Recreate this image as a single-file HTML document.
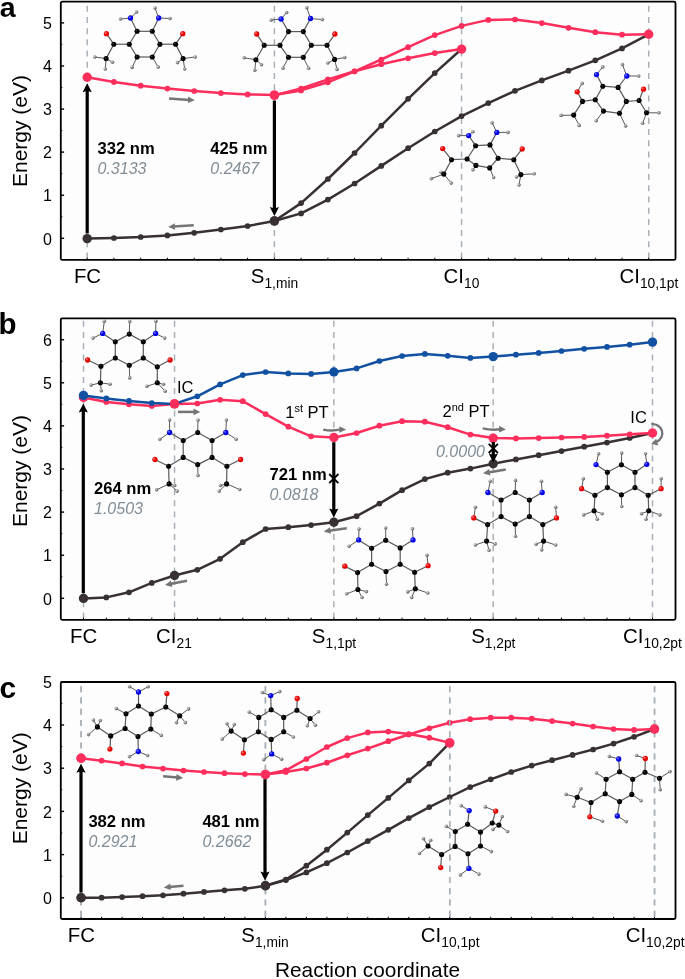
<!DOCTYPE html>
<html><head><meta charset="utf-8"><style>
html,body{margin:0;padding:0;background:#fff;width:685px;height:979px;overflow:hidden}
svg{display:block;will-change:transform}
text{font-family:"Liberation Sans",sans-serif;fill:#000}
</style></head><body>
<svg width="685" height="979" viewBox="0 0 685 979">
<defs>
<radialGradient id="gC" cx="35%" cy="35%" r="65%"><stop offset="0" stop-color="#444"/><stop offset="0.35" stop-color="#000"/></radialGradient>
<radialGradient id="gN" cx="35%" cy="35%" r="65%"><stop offset="0" stop-color="#8080ff"/><stop offset="0.5" stop-color="#0000e6"/></radialGradient>
<radialGradient id="gO" cx="35%" cy="35%" r="65%"><stop offset="0" stop-color="#ff8080"/><stop offset="0.5" stop-color="#e60000"/></radialGradient>
<radialGradient id="gH" cx="35%" cy="35%" r="65%"><stop offset="0" stop-color="#e0e0e0"/><stop offset="0.5" stop-color="#909090"/><stop offset="1" stop-color="#5a5a5a"/></radialGradient>
</defs>
<rect x="60.8" y="1.7" width="614.7" height="258.2" rx="1.5" fill="#fdfdfe" stroke="#000" stroke-width="1.8"/>
<line x1="87.2" y1="5.7" x2="87.2" y2="258" stroke="#a9b1b8" stroke-width="1.5" stroke-dasharray="6,5.22"/>
<line x1="274.38" y1="5.7" x2="274.38" y2="258" stroke="#a9b1b8" stroke-width="1.5" stroke-dasharray="6,5.22"/>
<line x1="461.55999999999995" y1="5.7" x2="461.55999999999995" y2="258" stroke="#a9b1b8" stroke-width="1.5" stroke-dasharray="6,5.22"/>
<line x1="648.74" y1="5.7" x2="648.74" y2="258" stroke="#a9b1b8" stroke-width="1.5" stroke-dasharray="6,5.22"/>
<line x1="87.2" y1="259.9" x2="87.2" y2="257.7" stroke="#000" stroke-width="1"/>
<line x1="113.9" y1="259.9" x2="113.9" y2="257.7" stroke="#000" stroke-width="1"/>
<line x1="140.7" y1="259.9" x2="140.7" y2="257.7" stroke="#000" stroke-width="1"/>
<line x1="167.4" y1="259.9" x2="167.4" y2="257.7" stroke="#000" stroke-width="1"/>
<line x1="194.2" y1="259.9" x2="194.2" y2="257.7" stroke="#000" stroke-width="1"/>
<line x1="220.9" y1="259.9" x2="220.9" y2="257.7" stroke="#000" stroke-width="1"/>
<line x1="247.6" y1="259.9" x2="247.6" y2="257.7" stroke="#000" stroke-width="1"/>
<line x1="274.4" y1="259.9" x2="274.4" y2="257.7" stroke="#000" stroke-width="1"/>
<line x1="301.1" y1="259.9" x2="301.1" y2="257.7" stroke="#000" stroke-width="1"/>
<line x1="327.9" y1="259.9" x2="327.9" y2="257.7" stroke="#000" stroke-width="1"/>
<line x1="354.6" y1="259.9" x2="354.6" y2="257.7" stroke="#000" stroke-width="1"/>
<line x1="381.3" y1="259.9" x2="381.3" y2="257.7" stroke="#000" stroke-width="1"/>
<line x1="408.1" y1="259.9" x2="408.1" y2="257.7" stroke="#000" stroke-width="1"/>
<line x1="434.8" y1="259.9" x2="434.8" y2="257.7" stroke="#000" stroke-width="1"/>
<line x1="461.6" y1="259.9" x2="461.6" y2="257.7" stroke="#000" stroke-width="1"/>
<line x1="488.3" y1="259.9" x2="488.3" y2="257.7" stroke="#000" stroke-width="1"/>
<line x1="515.0" y1="259.9" x2="515.0" y2="257.7" stroke="#000" stroke-width="1"/>
<line x1="541.8" y1="259.9" x2="541.8" y2="257.7" stroke="#000" stroke-width="1"/>
<line x1="568.5" y1="259.9" x2="568.5" y2="257.7" stroke="#000" stroke-width="1"/>
<line x1="595.3" y1="259.9" x2="595.3" y2="257.7" stroke="#000" stroke-width="1"/>
<line x1="622.0" y1="259.9" x2="622.0" y2="257.7" stroke="#000" stroke-width="1"/>
<line x1="648.7" y1="259.9" x2="648.7" y2="257.7" stroke="#000" stroke-width="1"/>
<line x1="60.8" y1="238.3" x2="64.1" y2="238.3" stroke="#000" stroke-width="1.4"/>
<text x="52" y="244.5" font-size="16" text-anchor="end">0</text>
<line x1="60.8" y1="216.8" x2="62.3" y2="216.8" stroke="#000" stroke-width="1"/>
<line x1="60.8" y1="195.2" x2="64.1" y2="195.2" stroke="#000" stroke-width="1.4"/>
<text x="52" y="201.4" font-size="16" text-anchor="end">1</text>
<line x1="60.8" y1="173.7" x2="62.3" y2="173.7" stroke="#000" stroke-width="1"/>
<line x1="60.8" y1="152.1" x2="64.1" y2="152.1" stroke="#000" stroke-width="1.4"/>
<text x="52" y="158.3" font-size="16" text-anchor="end">2</text>
<line x1="60.8" y1="130.6" x2="62.3" y2="130.6" stroke="#000" stroke-width="1"/>
<line x1="60.8" y1="109.1" x2="64.1" y2="109.1" stroke="#000" stroke-width="1.4"/>
<text x="52" y="115.3" font-size="16" text-anchor="end">3</text>
<line x1="60.8" y1="87.5" x2="62.3" y2="87.5" stroke="#000" stroke-width="1"/>
<line x1="60.8" y1="66.0" x2="64.1" y2="66.0" stroke="#000" stroke-width="1.4"/>
<text x="52" y="72.2" font-size="16" text-anchor="end">4</text>
<line x1="60.8" y1="44.4" x2="62.3" y2="44.4" stroke="#000" stroke-width="1"/>
<line x1="60.8" y1="22.9" x2="64.1" y2="22.9" stroke="#000" stroke-width="1.4"/>
<text x="52" y="29.1" font-size="16" text-anchor="end">5</text>
<text transform="translate(27.1,131) rotate(-90)" font-size="21" text-anchor="middle">Energy (eV)</text>
<polyline points="87.2,238.6 113.9,238.0 140.7,237.0 167.4,235.4 194.2,232.8 220.9,229.5 247.6,226.0 274.4,221.0" fill="none" stroke="#383032" stroke-width="2.5" stroke-linejoin="round" stroke-linecap="round"/>
<circle cx="87.2" cy="238.6" r="4.7" fill="#383032"/>
<circle cx="113.9" cy="238.0" r="2.85" fill="#383032"/>
<circle cx="140.7" cy="237.0" r="2.85" fill="#383032"/>
<circle cx="167.4" cy="235.4" r="2.85" fill="#383032"/>
<circle cx="194.2" cy="232.8" r="2.85" fill="#383032"/>
<circle cx="220.9" cy="229.5" r="2.85" fill="#383032"/>
<circle cx="247.6" cy="226.0" r="2.85" fill="#383032"/>
<circle cx="274.4" cy="221.0" r="4.7" fill="#383032"/>
<polyline points="274.4,221.0 301.1,203.1 327.9,179.0 354.6,153.0 381.3,125.7 408.1,98.8 434.8,73.1 461.6,49.0" fill="none" stroke="#383032" stroke-width="2.5" stroke-linejoin="round" stroke-linecap="round"/>
<circle cx="301.1" cy="203.1" r="2.85" fill="#383032"/>
<circle cx="327.9" cy="179.0" r="2.85" fill="#383032"/>
<circle cx="354.6" cy="153.0" r="2.85" fill="#383032"/>
<circle cx="381.3" cy="125.7" r="2.85" fill="#383032"/>
<circle cx="408.1" cy="98.8" r="2.85" fill="#383032"/>
<circle cx="434.8" cy="73.1" r="2.85" fill="#383032"/>
<polyline points="274.4,221.0 301.1,213.4 327.9,199.6 354.6,183.5 381.3,165.9 408.1,148.2 434.8,131.5 461.6,116.1 488.3,103.1 515.0,90.8 541.8,80.4 568.5,70.7 595.3,60.3 622.0,48.4 648.7,34.3" fill="none" stroke="#383032" stroke-width="2.5" stroke-linejoin="round" stroke-linecap="round"/>
<circle cx="301.1" cy="213.4" r="2.85" fill="#383032"/>
<circle cx="327.9" cy="199.6" r="2.85" fill="#383032"/>
<circle cx="354.6" cy="183.5" r="2.85" fill="#383032"/>
<circle cx="381.3" cy="165.9" r="2.85" fill="#383032"/>
<circle cx="408.1" cy="148.2" r="2.85" fill="#383032"/>
<circle cx="434.8" cy="131.5" r="2.85" fill="#383032"/>
<circle cx="461.6" cy="116.1" r="2.85" fill="#383032"/>
<circle cx="488.3" cy="103.1" r="2.85" fill="#383032"/>
<circle cx="515.0" cy="90.8" r="2.85" fill="#383032"/>
<circle cx="541.8" cy="80.4" r="2.85" fill="#383032"/>
<circle cx="568.5" cy="70.7" r="2.85" fill="#383032"/>
<circle cx="595.3" cy="60.3" r="2.85" fill="#383032"/>
<circle cx="622.0" cy="48.4" r="2.85" fill="#383032"/>
<polyline points="87.2,77.3 113.9,81.9 140.7,85.7 167.4,88.6 194.2,91.0 220.9,93.1 247.6,94.4 274.4,95.1" fill="none" stroke="#fd2d5c" stroke-width="2.5" stroke-linejoin="round" stroke-linecap="round"/>
<circle cx="87.2" cy="77.3" r="4.7" fill="#fd2d5c"/>
<circle cx="113.9" cy="81.9" r="2.85" fill="#fd2d5c"/>
<circle cx="140.7" cy="85.7" r="2.85" fill="#fd2d5c"/>
<circle cx="167.4" cy="88.6" r="2.85" fill="#fd2d5c"/>
<circle cx="194.2" cy="91.0" r="2.85" fill="#fd2d5c"/>
<circle cx="220.9" cy="93.1" r="2.85" fill="#fd2d5c"/>
<circle cx="247.6" cy="94.4" r="2.85" fill="#fd2d5c"/>
<circle cx="274.4" cy="95.1" r="2.85" fill="#fd2d5c"/>
<polyline points="274.4,95.1 301.1,90.4 327.9,82.3 354.6,71.3 381.3,64.2 408.1,58.3 434.8,53.1 461.6,49.1" fill="none" stroke="#fd2d5c" stroke-width="2.5" stroke-linejoin="round" stroke-linecap="round"/>
<circle cx="274.4" cy="95.1" r="4.7" fill="#fd2d5c"/>
<circle cx="301.1" cy="90.4" r="2.85" fill="#fd2d5c"/>
<circle cx="327.9" cy="82.3" r="2.85" fill="#fd2d5c"/>
<circle cx="354.6" cy="71.3" r="2.85" fill="#fd2d5c"/>
<circle cx="381.3" cy="64.2" r="2.85" fill="#fd2d5c"/>
<circle cx="408.1" cy="58.3" r="2.85" fill="#fd2d5c"/>
<circle cx="434.8" cy="53.1" r="2.85" fill="#fd2d5c"/>
<circle cx="461.6" cy="49.1" r="4.7" fill="#fd2d5c"/>
<polyline points="274.4,95.1 301.1,88.5 327.9,79.4 354.6,71.3 381.3,59.5 408.1,47.2 434.8,35.1 461.6,25.9 488.3,19.9 515.0,19.5 541.8,23.1 568.5,27.8 595.3,32.2 622.0,34.7 648.7,34.3" fill="none" stroke="#fd2d5c" stroke-width="2.5" stroke-linejoin="round" stroke-linecap="round"/>
<circle cx="301.1" cy="88.5" r="2.85" fill="#fd2d5c"/>
<circle cx="327.9" cy="79.4" r="2.85" fill="#fd2d5c"/>
<circle cx="354.6" cy="71.3" r="2.85" fill="#fd2d5c"/>
<circle cx="381.3" cy="59.5" r="2.85" fill="#fd2d5c"/>
<circle cx="408.1" cy="47.2" r="2.85" fill="#fd2d5c"/>
<circle cx="434.8" cy="35.1" r="2.85" fill="#fd2d5c"/>
<circle cx="461.6" cy="25.9" r="2.85" fill="#fd2d5c"/>
<circle cx="488.3" cy="19.9" r="2.85" fill="#fd2d5c"/>
<circle cx="515.0" cy="19.5" r="2.85" fill="#fd2d5c"/>
<circle cx="541.8" cy="23.1" r="2.85" fill="#fd2d5c"/>
<circle cx="568.5" cy="27.8" r="2.85" fill="#fd2d5c"/>
<circle cx="595.3" cy="32.2" r="2.85" fill="#fd2d5c"/>
<circle cx="622.0" cy="34.7" r="2.85" fill="#fd2d5c"/>
<circle cx="648.7" cy="34.3" r="4.7" fill="#fd2d5c"/>
<circle cx="274.4" cy="95.1" r="4.7" fill="#fd2d5c"/>
<circle cx="274.4" cy="221" r="4.7" fill="#383032"/>
<line x1="87.2" y1="233.4" x2="87.2" y2="88.15" stroke="#000" stroke-width="3.2"/>
<path d="M87.2,83.2 L82.60,92.20 L87.2,90.76 L91.80,92.20 Z" fill="#000"/>
<line x1="274.4" y1="100.6" x2="274.4" y2="211.05" stroke="#000" stroke-width="3.2"/>
<path d="M274.4,216 L269.80,207.00 L274.4,208.44 L279.00,207.00 Z" fill="#000"/>
<text x="97.5" y="153.5" font-size="16.6" font-weight="bold">332 nm</text>
<text x="97.5" y="173.7" font-size="16" font-style="italic" style="fill:#808d96">0.3133</text>
<text x="210.3" y="153.5" font-size="16.6" font-weight="bold">425 nm</text>
<text x="210.3" y="173.7" font-size="16" font-style="italic" style="fill:#808d96">0.2467</text>
<line x1="169" y1="98.5" x2="189.5" y2="99.9" stroke="#757575" stroke-width="2.5"/>
<path d="M194.8,100.2 L187.8,103.0 L188.2,96.5 Z" fill="#757575"/>
<line x1="193.8" y1="225.2" x2="173.5" y2="226.5" stroke="#757575" stroke-width="2.5"/>
<path d="M168.2,226.9 L174.8,223.2 L175.2,229.7 Z" fill="#757575"/>
<text x="87.5" y="282.6" font-size="20.4" text-anchor="middle">FC<tspan font-size="13.8" dy="5.2"></tspan></text>
<text x="274.5" y="282.6" font-size="20.4" text-anchor="middle">S<tspan font-size="13.8" dy="5.2">1,min</tspan></text>
<text x="461.5" y="282.6" font-size="20.4" text-anchor="middle">CI<tspan font-size="13.8" dy="5.2">10</tspan></text>
<text x="648.9" y="282.6" font-size="20.4" text-anchor="middle">CI<tspan font-size="13.8" dy="5.2">10,1pt</tspan></text>
<text x="-0.3" y="17" font-size="28.5" font-weight="bold">a</text>
<rect x="60.8" y="318.3" width="614.7" height="301.49999999999994" rx="1.5" fill="#fdfdfe" stroke="#000" stroke-width="1.8"/>
<line x1="83.5" y1="320.8" x2="83.5" y2="618" stroke="#a9b1b8" stroke-width="1.5" stroke-dasharray="6,5.22"/>
<line x1="174.54000000000002" y1="320.8" x2="174.54000000000002" y2="618" stroke="#a9b1b8" stroke-width="1.5" stroke-dasharray="6,5.22"/>
<line x1="333.86" y1="320.8" x2="333.86" y2="618" stroke="#a9b1b8" stroke-width="1.5" stroke-dasharray="6,5.22"/>
<line x1="493.18" y1="320.8" x2="493.18" y2="618" stroke="#a9b1b8" stroke-width="1.5" stroke-dasharray="6,5.22"/>
<line x1="652.5" y1="320.8" x2="652.5" y2="618" stroke="#a9b1b8" stroke-width="1.5" stroke-dasharray="6,5.22"/>
<line x1="83.5" y1="619.8" x2="83.5" y2="617.5999999999999" stroke="#000" stroke-width="1"/>
<line x1="106.3" y1="619.8" x2="106.3" y2="617.5999999999999" stroke="#000" stroke-width="1"/>
<line x1="129.0" y1="619.8" x2="129.0" y2="617.5999999999999" stroke="#000" stroke-width="1"/>
<line x1="151.8" y1="619.8" x2="151.8" y2="617.5999999999999" stroke="#000" stroke-width="1"/>
<line x1="174.5" y1="619.8" x2="174.5" y2="617.5999999999999" stroke="#000" stroke-width="1"/>
<line x1="197.3" y1="619.8" x2="197.3" y2="617.5999999999999" stroke="#000" stroke-width="1"/>
<line x1="220.1" y1="619.8" x2="220.1" y2="617.5999999999999" stroke="#000" stroke-width="1"/>
<line x1="242.8" y1="619.8" x2="242.8" y2="617.5999999999999" stroke="#000" stroke-width="1"/>
<line x1="265.6" y1="619.8" x2="265.6" y2="617.5999999999999" stroke="#000" stroke-width="1"/>
<line x1="288.3" y1="619.8" x2="288.3" y2="617.5999999999999" stroke="#000" stroke-width="1"/>
<line x1="311.1" y1="619.8" x2="311.1" y2="617.5999999999999" stroke="#000" stroke-width="1"/>
<line x1="333.9" y1="619.8" x2="333.9" y2="617.5999999999999" stroke="#000" stroke-width="1"/>
<line x1="356.6" y1="619.8" x2="356.6" y2="617.5999999999999" stroke="#000" stroke-width="1"/>
<line x1="379.4" y1="619.8" x2="379.4" y2="617.5999999999999" stroke="#000" stroke-width="1"/>
<line x1="402.1" y1="619.8" x2="402.1" y2="617.5999999999999" stroke="#000" stroke-width="1"/>
<line x1="424.9" y1="619.8" x2="424.9" y2="617.5999999999999" stroke="#000" stroke-width="1"/>
<line x1="447.7" y1="619.8" x2="447.7" y2="617.5999999999999" stroke="#000" stroke-width="1"/>
<line x1="470.4" y1="619.8" x2="470.4" y2="617.5999999999999" stroke="#000" stroke-width="1"/>
<line x1="493.2" y1="619.8" x2="493.2" y2="617.5999999999999" stroke="#000" stroke-width="1"/>
<line x1="515.9" y1="619.8" x2="515.9" y2="617.5999999999999" stroke="#000" stroke-width="1"/>
<line x1="538.7" y1="619.8" x2="538.7" y2="617.5999999999999" stroke="#000" stroke-width="1"/>
<line x1="561.5" y1="619.8" x2="561.5" y2="617.5999999999999" stroke="#000" stroke-width="1"/>
<line x1="584.2" y1="619.8" x2="584.2" y2="617.5999999999999" stroke="#000" stroke-width="1"/>
<line x1="607.0" y1="619.8" x2="607.0" y2="617.5999999999999" stroke="#000" stroke-width="1"/>
<line x1="629.7" y1="619.8" x2="629.7" y2="617.5999999999999" stroke="#000" stroke-width="1"/>
<line x1="652.5" y1="619.8" x2="652.5" y2="617.5999999999999" stroke="#000" stroke-width="1"/>
<line x1="60.8" y1="598.3" x2="64.1" y2="598.3" stroke="#000" stroke-width="1.4"/>
<text x="52" y="604.5" font-size="16" text-anchor="end">0</text>
<line x1="60.8" y1="576.8" x2="62.3" y2="576.8" stroke="#000" stroke-width="1"/>
<line x1="60.8" y1="555.2" x2="64.1" y2="555.2" stroke="#000" stroke-width="1.4"/>
<text x="52" y="561.4" font-size="16" text-anchor="end">1</text>
<line x1="60.8" y1="533.6" x2="62.3" y2="533.6" stroke="#000" stroke-width="1"/>
<line x1="60.8" y1="512.1" x2="64.1" y2="512.1" stroke="#000" stroke-width="1.4"/>
<text x="52" y="518.3" font-size="16" text-anchor="end">2</text>
<line x1="60.8" y1="490.5" x2="62.3" y2="490.5" stroke="#000" stroke-width="1"/>
<line x1="60.8" y1="469.0" x2="64.1" y2="469.0" stroke="#000" stroke-width="1.4"/>
<text x="52" y="475.2" font-size="16" text-anchor="end">3</text>
<line x1="60.8" y1="447.4" x2="62.3" y2="447.4" stroke="#000" stroke-width="1"/>
<line x1="60.8" y1="425.9" x2="64.1" y2="425.9" stroke="#000" stroke-width="1.4"/>
<text x="52" y="432.1" font-size="16" text-anchor="end">4</text>
<line x1="60.8" y1="404.3" x2="62.3" y2="404.3" stroke="#000" stroke-width="1"/>
<line x1="60.8" y1="382.8" x2="64.1" y2="382.8" stroke="#000" stroke-width="1.4"/>
<text x="52" y="389.0" font-size="16" text-anchor="end">5</text>
<line x1="60.8" y1="361.2" x2="62.3" y2="361.2" stroke="#000" stroke-width="1"/>
<line x1="60.8" y1="339.7" x2="64.1" y2="339.7" stroke="#000" stroke-width="1.4"/>
<text x="52" y="345.9" font-size="16" text-anchor="end">6</text>
<text transform="translate(27.1,471) rotate(-90)" font-size="21" text-anchor="middle">Energy (eV)</text>
<polyline points="83.5,598.4 106.3,597.4 129.0,592.3 151.8,582.9 174.5,575.5 197.3,569.8 220.1,558.8 242.8,542.2 265.6,529.0 288.3,527.2 311.1,525.1 333.9,522.3 356.6,516.2 379.4,503.6 402.1,490.2 424.9,479.1 447.7,472.7 470.4,468.6 493.2,463.8 515.9,459.4 538.7,455.2 561.5,451.1 584.2,446.7 607.0,442.6 629.7,438.0 652.5,433.0" fill="none" stroke="#383032" stroke-width="2.5" stroke-linejoin="round" stroke-linecap="round"/>
<circle cx="83.5" cy="598.4" r="4.7" fill="#383032"/>
<circle cx="106.3" cy="597.4" r="2.85" fill="#383032"/>
<circle cx="129.0" cy="592.3" r="2.85" fill="#383032"/>
<circle cx="151.8" cy="582.9" r="2.85" fill="#383032"/>
<circle cx="174.5" cy="575.5" r="4.7" fill="#383032"/>
<circle cx="197.3" cy="569.8" r="2.85" fill="#383032"/>
<circle cx="220.1" cy="558.8" r="2.85" fill="#383032"/>
<circle cx="242.8" cy="542.2" r="2.85" fill="#383032"/>
<circle cx="265.6" cy="529.0" r="2.85" fill="#383032"/>
<circle cx="288.3" cy="527.2" r="2.85" fill="#383032"/>
<circle cx="311.1" cy="525.1" r="2.85" fill="#383032"/>
<circle cx="333.9" cy="522.3" r="4.7" fill="#383032"/>
<circle cx="356.6" cy="516.2" r="2.85" fill="#383032"/>
<circle cx="379.4" cy="503.6" r="2.85" fill="#383032"/>
<circle cx="402.1" cy="490.2" r="2.85" fill="#383032"/>
<circle cx="424.9" cy="479.1" r="2.85" fill="#383032"/>
<circle cx="447.7" cy="472.7" r="2.85" fill="#383032"/>
<circle cx="470.4" cy="468.6" r="2.85" fill="#383032"/>
<circle cx="493.2" cy="463.8" r="4.7" fill="#383032"/>
<circle cx="515.9" cy="459.4" r="2.85" fill="#383032"/>
<circle cx="538.7" cy="455.2" r="2.85" fill="#383032"/>
<circle cx="561.5" cy="451.1" r="2.85" fill="#383032"/>
<circle cx="584.2" cy="446.7" r="2.85" fill="#383032"/>
<circle cx="607.0" cy="442.6" r="2.85" fill="#383032"/>
<circle cx="629.7" cy="438.0" r="2.85" fill="#383032"/>
<polyline points="83.5,397.4 106.3,401.9 129.0,404.3 151.8,406.0 174.5,403.9 197.3,403.5 220.1,399.8 242.8,401.2 265.6,414.1 288.3,426.7 311.1,436.3 333.9,437.5 356.6,433.0 379.4,425.7 402.1,421.2 424.9,421.7 447.7,427.2 470.4,434.6 493.2,438.1 515.9,438.4 538.7,438.1 561.5,437.5 584.2,436.9 607.0,435.7 629.7,434.3 652.5,433.0" fill="none" stroke="#fd2d5c" stroke-width="2.5" stroke-linejoin="round" stroke-linecap="round"/>
<circle cx="83.5" cy="397.4" r="4.7" fill="#fd2d5c"/>
<circle cx="106.3" cy="401.9" r="2.85" fill="#fd2d5c"/>
<circle cx="129.0" cy="404.3" r="2.85" fill="#fd2d5c"/>
<circle cx="151.8" cy="406.0" r="2.85" fill="#fd2d5c"/>
<circle cx="174.5" cy="403.9" r="4.7" fill="#fd2d5c"/>
<circle cx="197.3" cy="403.5" r="2.85" fill="#fd2d5c"/>
<circle cx="220.1" cy="399.8" r="2.85" fill="#fd2d5c"/>
<circle cx="242.8" cy="401.2" r="2.85" fill="#fd2d5c"/>
<circle cx="265.6" cy="414.1" r="2.85" fill="#fd2d5c"/>
<circle cx="288.3" cy="426.7" r="2.85" fill="#fd2d5c"/>
<circle cx="311.1" cy="436.3" r="2.85" fill="#fd2d5c"/>
<circle cx="333.9" cy="437.5" r="4.7" fill="#fd2d5c"/>
<circle cx="356.6" cy="433.0" r="2.85" fill="#fd2d5c"/>
<circle cx="379.4" cy="425.7" r="2.85" fill="#fd2d5c"/>
<circle cx="402.1" cy="421.2" r="2.85" fill="#fd2d5c"/>
<circle cx="424.9" cy="421.7" r="2.85" fill="#fd2d5c"/>
<circle cx="447.7" cy="427.2" r="2.85" fill="#fd2d5c"/>
<circle cx="470.4" cy="434.6" r="2.85" fill="#fd2d5c"/>
<circle cx="493.2" cy="438.1" r="4.7" fill="#fd2d5c"/>
<circle cx="515.9" cy="438.4" r="2.85" fill="#fd2d5c"/>
<circle cx="538.7" cy="438.1" r="2.85" fill="#fd2d5c"/>
<circle cx="561.5" cy="437.5" r="2.85" fill="#fd2d5c"/>
<circle cx="584.2" cy="436.9" r="2.85" fill="#fd2d5c"/>
<circle cx="607.0" cy="435.7" r="2.85" fill="#fd2d5c"/>
<circle cx="629.7" cy="434.3" r="2.85" fill="#fd2d5c"/>
<circle cx="652.5" cy="433.0" r="4.7" fill="#fd2d5c"/>
<polyline points="83.5,395.4 106.3,398.4 129.0,400.9 151.8,403.1 174.5,403.9 197.3,396.3 220.1,384.4 242.8,375.1 265.6,372.0 288.3,373.4 311.1,373.9 333.9,372.0 356.6,368.4 379.4,361.0 402.1,356.0 424.9,353.9 447.7,355.8 470.4,357.9 493.2,356.6 515.9,354.7 538.7,352.9 561.5,351.0 584.2,348.8 607.0,346.9 629.7,344.7 652.5,342.1" fill="none" stroke="#1251a2" stroke-width="2.5" stroke-linejoin="round" stroke-linecap="round"/>
<circle cx="83.5" cy="395.4" r="4.7" fill="#1251a2"/>
<circle cx="106.3" cy="398.4" r="2.85" fill="#1251a2"/>
<circle cx="129.0" cy="400.9" r="2.85" fill="#1251a2"/>
<circle cx="151.8" cy="403.1" r="2.85" fill="#1251a2"/>
<circle cx="197.3" cy="396.3" r="2.85" fill="#1251a2"/>
<circle cx="220.1" cy="384.4" r="2.85" fill="#1251a2"/>
<circle cx="242.8" cy="375.1" r="2.85" fill="#1251a2"/>
<circle cx="265.6" cy="372.0" r="2.85" fill="#1251a2"/>
<circle cx="288.3" cy="373.4" r="2.85" fill="#1251a2"/>
<circle cx="311.1" cy="373.9" r="2.85" fill="#1251a2"/>
<circle cx="333.9" cy="372.0" r="4.7" fill="#1251a2"/>
<circle cx="356.6" cy="368.4" r="2.85" fill="#1251a2"/>
<circle cx="379.4" cy="361.0" r="2.85" fill="#1251a2"/>
<circle cx="402.1" cy="356.0" r="2.85" fill="#1251a2"/>
<circle cx="424.9" cy="353.9" r="2.85" fill="#1251a2"/>
<circle cx="447.7" cy="355.8" r="2.85" fill="#1251a2"/>
<circle cx="470.4" cy="357.9" r="2.85" fill="#1251a2"/>
<circle cx="493.2" cy="356.6" r="4.7" fill="#1251a2"/>
<circle cx="515.9" cy="354.7" r="2.85" fill="#1251a2"/>
<circle cx="538.7" cy="352.9" r="2.85" fill="#1251a2"/>
<circle cx="561.5" cy="351.0" r="2.85" fill="#1251a2"/>
<circle cx="584.2" cy="348.8" r="2.85" fill="#1251a2"/>
<circle cx="607.0" cy="346.9" r="2.85" fill="#1251a2"/>
<circle cx="629.7" cy="344.7" r="2.85" fill="#1251a2"/>
<circle cx="652.5" cy="342.1" r="4.7" fill="#1251a2"/>
<circle cx="174.5" cy="403.9" r="4.7" fill="#fd2d5c"/>
<line x1="83.3" y1="593.2" x2="83.3" y2="408.45" stroke="#000" stroke-width="3.2"/>
<path d="M83.3,403.5 L78.70,412.50 L83.3,411.06 L87.90,412.50 Z" fill="#000"/>
<line x1="333.8" y1="442.2" x2="333.8" y2="512.65" stroke="#000" stroke-width="3.2"/>
<path d="M333.8,517.6 L329.20,508.60 L333.8,510.04 L338.40,508.60 Z" fill="#000"/>
<path d="M329.2,474.0 L338.40000000000003,483.20000000000005 M338.40000000000003,474.0 L329.2,483.20000000000005" stroke="#000" stroke-width="1.8"/>
<line x1="493.3" y1="442" x2="493.3" y2="457.55" stroke="#000" stroke-width="3.2"/>
<path d="M493.3,462.5 L488.70,453.50 L493.3,454.94 L497.90,453.50 Z" fill="#000"/>
<path d="M488.7,443.79999999999995 L497.90000000000003,453.0 M497.90000000000003,443.79999999999995 L488.7,453.0" stroke="#000" stroke-width="1.8"/>
<text x="94" y="493.6" font-size="16.6" font-weight="bold">264 nm</text>
<text x="94" y="513.8000000000001" font-size="16" font-style="italic" style="fill:#808d96">1.0503</text>
<text x="269.5" y="479.6" font-size="16.6" font-weight="bold">721 nm</text>
<text x="269.5" y="499.8" font-size="16" font-style="italic" style="fill:#808d96">0.0818</text>
<text x="436" y="456.5" font-size="16" font-style="italic" style="fill:#808d96">0.0000</text>
<text x="177" y="392.5" font-size="16.5">IC</text>
<text x="630.3" y="423" font-size="16.5">IC</text>
<text x="285.2" y="418.3" font-size="16.5">1<tspan font-size="11" dy="-6">st</tspan><tspan dy="6"> PT</tspan></text>
<text x="442.5" y="416.8" font-size="16.5">2<tspan font-size="11" dy="-6">nd</tspan><tspan dy="6"> PT</tspan></text>
<line x1="178" y1="411.9" x2="195.0" y2="411.9" stroke="#757575" stroke-width="2.5"/>
<path d="M200.3,411.9 L193.5,415.2 L193.5,408.6 Z" fill="#757575"/>
<path d="M323.2,429.6 Q332.1,431.5 340.9,429.4" fill="none" stroke="#757575" stroke-width="2.5"/>
<path d="M346.2,429.4 L339.4,432.8 L339.4,426.2 Z" fill="#757575"/>
<path d="M482.7,428.4 Q491.6,430.4 500.6,429.2" fill="none" stroke="#757575" stroke-width="2.5"/>
<path d="M505.9,429.4 L499.0,432.4 L499.2,425.8 Z" fill="#757575"/>
<line x1="505.8" y1="469.6" x2="488.2" y2="472.4" stroke="#757575" stroke-width="2.5"/>
<path d="M483,473.2 L489.2,468.9 L490.2,475.4 Z" fill="#757575"/>
<line x1="346.8" y1="528.3" x2="328.9" y2="530.8" stroke="#757575" stroke-width="2.5"/>
<path d="M323.7,531.5 L330.0,527.3 L330.9,533.8 Z" fill="#757575"/>
<line x1="187" y1="580.7" x2="170.2" y2="584.0" stroke="#757575" stroke-width="2.5"/>
<path d="M165,585 L171.0,580.5 L172.3,586.9 Z" fill="#757575"/>
<path d="M651.4,424.2 A9.5,9.2 0 0 1 656.9,441.6" fill="none" stroke="#757575" stroke-width="2.3"/>
<path d="M651.2,443.8 L656.2,438.8 L658.2,445.6 Z" fill="#757575"/>
<text x="83.7" y="643" font-size="20.4" text-anchor="middle">FC<tspan font-size="13.8" dy="5.2"></tspan></text>
<text x="174" y="643" font-size="20.4" text-anchor="middle">CI<tspan font-size="13.8" dy="5.2">21</tspan></text>
<text x="334" y="642.5" font-size="20.4" text-anchor="middle">S<tspan font-size="13.8" dy="5.2">1,1pt</tspan></text>
<text x="493.3" y="642.5" font-size="20.4" text-anchor="middle">S<tspan font-size="13.8" dy="5.2">1,2pt</tspan></text>
<text x="652.5" y="642.5" font-size="20.4" text-anchor="middle">CI<tspan font-size="13.8" dy="5.2">10,2pt</tspan></text>
<text x="-1.6" y="333.7" font-size="29.5" font-weight="bold">b</text>
<rect x="60.8" y="682" width="614.7" height="237" rx="1.5" fill="#fdfdfe" stroke="#000" stroke-width="1.8"/>
<line x1="81.1" y1="686.3" x2="81.1" y2="918" stroke="#a9b1b8" stroke-width="1.5" stroke-dasharray="6,5.22"/>
<line x1="265.41999999999996" y1="686.3" x2="265.41999999999996" y2="918" stroke="#a9b1b8" stroke-width="1.5" stroke-dasharray="6,5.22"/>
<line x1="449.74" y1="686.3" x2="449.74" y2="918" stroke="#a9b1b8" stroke-width="1.5" stroke-dasharray="6,5.22"/>
<line x1="654.5400000000001" y1="686.3" x2="654.5400000000001" y2="918" stroke="#a9b1b8" stroke-width="1.5" stroke-dasharray="6,5.22"/>
<line x1="81.1" y1="919" x2="81.1" y2="916.8" stroke="#000" stroke-width="1"/>
<line x1="101.6" y1="919" x2="101.6" y2="916.8" stroke="#000" stroke-width="1"/>
<line x1="122.1" y1="919" x2="122.1" y2="916.8" stroke="#000" stroke-width="1"/>
<line x1="142.5" y1="919" x2="142.5" y2="916.8" stroke="#000" stroke-width="1"/>
<line x1="163.0" y1="919" x2="163.0" y2="916.8" stroke="#000" stroke-width="1"/>
<line x1="183.5" y1="919" x2="183.5" y2="916.8" stroke="#000" stroke-width="1"/>
<line x1="204.0" y1="919" x2="204.0" y2="916.8" stroke="#000" stroke-width="1"/>
<line x1="224.5" y1="919" x2="224.5" y2="916.8" stroke="#000" stroke-width="1"/>
<line x1="244.9" y1="919" x2="244.9" y2="916.8" stroke="#000" stroke-width="1"/>
<line x1="265.4" y1="919" x2="265.4" y2="916.8" stroke="#000" stroke-width="1"/>
<line x1="285.9" y1="919" x2="285.9" y2="916.8" stroke="#000" stroke-width="1"/>
<line x1="306.4" y1="919" x2="306.4" y2="916.8" stroke="#000" stroke-width="1"/>
<line x1="326.9" y1="919" x2="326.9" y2="916.8" stroke="#000" stroke-width="1"/>
<line x1="347.3" y1="919" x2="347.3" y2="916.8" stroke="#000" stroke-width="1"/>
<line x1="367.8" y1="919" x2="367.8" y2="916.8" stroke="#000" stroke-width="1"/>
<line x1="388.3" y1="919" x2="388.3" y2="916.8" stroke="#000" stroke-width="1"/>
<line x1="408.8" y1="919" x2="408.8" y2="916.8" stroke="#000" stroke-width="1"/>
<line x1="429.3" y1="919" x2="429.3" y2="916.8" stroke="#000" stroke-width="1"/>
<line x1="449.7" y1="919" x2="449.7" y2="916.8" stroke="#000" stroke-width="1"/>
<line x1="470.2" y1="919" x2="470.2" y2="916.8" stroke="#000" stroke-width="1"/>
<line x1="490.7" y1="919" x2="490.7" y2="916.8" stroke="#000" stroke-width="1"/>
<line x1="511.2" y1="919" x2="511.2" y2="916.8" stroke="#000" stroke-width="1"/>
<line x1="531.7" y1="919" x2="531.7" y2="916.8" stroke="#000" stroke-width="1"/>
<line x1="552.1" y1="919" x2="552.1" y2="916.8" stroke="#000" stroke-width="1"/>
<line x1="572.6" y1="919" x2="572.6" y2="916.8" stroke="#000" stroke-width="1"/>
<line x1="593.1" y1="919" x2="593.1" y2="916.8" stroke="#000" stroke-width="1"/>
<line x1="613.6" y1="919" x2="613.6" y2="916.8" stroke="#000" stroke-width="1"/>
<line x1="634.1" y1="919" x2="634.1" y2="916.8" stroke="#000" stroke-width="1"/>
<line x1="654.5" y1="919" x2="654.5" y2="916.8" stroke="#000" stroke-width="1"/>
<line x1="60.8" y1="897.8" x2="64.1" y2="897.8" stroke="#000" stroke-width="1.4"/>
<text x="52" y="904.0" font-size="16" text-anchor="end">0</text>
<line x1="60.8" y1="876.2" x2="62.3" y2="876.2" stroke="#000" stroke-width="1"/>
<line x1="60.8" y1="854.6" x2="64.1" y2="854.6" stroke="#000" stroke-width="1.4"/>
<text x="52" y="860.8" font-size="16" text-anchor="end">1</text>
<line x1="60.8" y1="833.0" x2="62.3" y2="833.0" stroke="#000" stroke-width="1"/>
<line x1="60.8" y1="811.4" x2="64.1" y2="811.4" stroke="#000" stroke-width="1.4"/>
<text x="52" y="817.6" font-size="16" text-anchor="end">2</text>
<line x1="60.8" y1="789.8" x2="62.3" y2="789.8" stroke="#000" stroke-width="1"/>
<line x1="60.8" y1="768.2" x2="64.1" y2="768.2" stroke="#000" stroke-width="1.4"/>
<text x="52" y="774.4" font-size="16" text-anchor="end">3</text>
<line x1="60.8" y1="746.6" x2="62.3" y2="746.6" stroke="#000" stroke-width="1"/>
<line x1="60.8" y1="725.0" x2="64.1" y2="725.0" stroke="#000" stroke-width="1.4"/>
<text x="52" y="731.2" font-size="16" text-anchor="end">4</text>
<line x1="60.8" y1="703.4" x2="62.3" y2="703.4" stroke="#000" stroke-width="1"/>
<line x1="60.8" y1="681.8" x2="64.1" y2="681.8" stroke="#000" stroke-width="1.4"/>
<text x="52" y="688.0" font-size="16" text-anchor="end">5</text>
<text transform="translate(27.1,788.3) rotate(-90)" font-size="21" text-anchor="middle">Energy (eV)</text>
<polyline points="81.1,897.7 101.6,897.7 122.1,897.1 142.5,896.2 163.0,895.3 183.5,893.7 204.0,891.9 224.5,890.3 244.9,888.8 265.4,885.8" fill="none" stroke="#383032" stroke-width="2.5" stroke-linejoin="round" stroke-linecap="round"/>
<circle cx="81.1" cy="897.7" r="4.7" fill="#383032"/>
<circle cx="101.6" cy="897.7" r="2.85" fill="#383032"/>
<circle cx="122.1" cy="897.1" r="2.85" fill="#383032"/>
<circle cx="142.5" cy="896.2" r="2.85" fill="#383032"/>
<circle cx="163.0" cy="895.3" r="2.85" fill="#383032"/>
<circle cx="183.5" cy="893.7" r="2.85" fill="#383032"/>
<circle cx="204.0" cy="891.9" r="2.85" fill="#383032"/>
<circle cx="224.5" cy="890.3" r="2.85" fill="#383032"/>
<circle cx="244.9" cy="888.8" r="2.85" fill="#383032"/>
<circle cx="265.4" cy="885.8" r="4.7" fill="#383032"/>
<polyline points="265.4,885.8 285.9,879.5 306.4,865.7 326.9,849.7 347.3,832.6 367.8,815.1 388.3,797.9 408.8,780.4 429.3,763.6 449.7,742.9" fill="none" stroke="#383032" stroke-width="2.5" stroke-linejoin="round" stroke-linecap="round"/>
<circle cx="285.9" cy="879.5" r="2.85" fill="#383032"/>
<circle cx="306.4" cy="865.7" r="2.85" fill="#383032"/>
<circle cx="326.9" cy="849.7" r="2.85" fill="#383032"/>
<circle cx="347.3" cy="832.6" r="2.85" fill="#383032"/>
<circle cx="367.8" cy="815.1" r="2.85" fill="#383032"/>
<circle cx="388.3" cy="797.9" r="2.85" fill="#383032"/>
<circle cx="408.8" cy="780.4" r="2.85" fill="#383032"/>
<circle cx="429.3" cy="763.6" r="2.85" fill="#383032"/>
<polyline points="265.4,885.8 285.9,880.1 306.4,872.4 326.9,863.2 347.3,852.5 367.8,841.1 388.3,829.8 408.8,818.1 429.3,807.1 449.7,797.0 470.2,787.1 490.7,779.3 511.2,772.0 531.7,765.6 552.1,760.2 572.6,754.9 593.1,749.5 613.6,743.6 634.1,736.8 654.5,729.0" fill="none" stroke="#383032" stroke-width="2.5" stroke-linejoin="round" stroke-linecap="round"/>
<circle cx="285.9" cy="880.1" r="2.85" fill="#383032"/>
<circle cx="306.4" cy="872.4" r="2.85" fill="#383032"/>
<circle cx="326.9" cy="863.2" r="2.85" fill="#383032"/>
<circle cx="347.3" cy="852.5" r="2.85" fill="#383032"/>
<circle cx="367.8" cy="841.1" r="2.85" fill="#383032"/>
<circle cx="388.3" cy="829.8" r="2.85" fill="#383032"/>
<circle cx="408.8" cy="818.1" r="2.85" fill="#383032"/>
<circle cx="429.3" cy="807.1" r="2.85" fill="#383032"/>
<circle cx="449.7" cy="797.0" r="2.85" fill="#383032"/>
<circle cx="470.2" cy="787.1" r="2.85" fill="#383032"/>
<circle cx="490.7" cy="779.3" r="2.85" fill="#383032"/>
<circle cx="511.2" cy="772.0" r="2.85" fill="#383032"/>
<circle cx="531.7" cy="765.6" r="2.85" fill="#383032"/>
<circle cx="552.1" cy="760.2" r="2.85" fill="#383032"/>
<circle cx="572.6" cy="754.9" r="2.85" fill="#383032"/>
<circle cx="593.1" cy="749.5" r="2.85" fill="#383032"/>
<circle cx="613.6" cy="743.6" r="2.85" fill="#383032"/>
<circle cx="634.1" cy="736.8" r="2.85" fill="#383032"/>
<polyline points="81.1,758.2 101.6,760.7 122.1,763.4 142.5,766.5 163.0,768.6 183.5,770.5 204.0,772.0 224.5,773.2 244.9,774.1 265.4,774.5" fill="none" stroke="#fd2d5c" stroke-width="2.5" stroke-linejoin="round" stroke-linecap="round"/>
<circle cx="81.1" cy="758.2" r="4.7" fill="#fd2d5c"/>
<circle cx="101.6" cy="760.7" r="2.85" fill="#fd2d5c"/>
<circle cx="122.1" cy="763.4" r="2.85" fill="#fd2d5c"/>
<circle cx="142.5" cy="766.5" r="2.85" fill="#fd2d5c"/>
<circle cx="163.0" cy="768.6" r="2.85" fill="#fd2d5c"/>
<circle cx="183.5" cy="770.5" r="2.85" fill="#fd2d5c"/>
<circle cx="204.0" cy="772.0" r="2.85" fill="#fd2d5c"/>
<circle cx="224.5" cy="773.2" r="2.85" fill="#fd2d5c"/>
<circle cx="244.9" cy="774.1" r="2.85" fill="#fd2d5c"/>
<circle cx="265.4" cy="774.5" r="2.85" fill="#fd2d5c"/>
<polyline points="265.4,774.5 285.9,770.3 306.4,759.0 326.9,747.0 347.3,738.1 367.8,732.4 388.3,731.6 408.8,734.0 429.3,737.7 449.7,742.9" fill="none" stroke="#fd2d5c" stroke-width="2.5" stroke-linejoin="round" stroke-linecap="round"/>
<circle cx="265.4" cy="774.5" r="4.7" fill="#fd2d5c"/>
<circle cx="285.9" cy="770.3" r="2.85" fill="#fd2d5c"/>
<circle cx="306.4" cy="759.0" r="2.85" fill="#fd2d5c"/>
<circle cx="326.9" cy="747.0" r="2.85" fill="#fd2d5c"/>
<circle cx="347.3" cy="738.1" r="2.85" fill="#fd2d5c"/>
<circle cx="367.8" cy="732.4" r="2.85" fill="#fd2d5c"/>
<circle cx="388.3" cy="731.6" r="2.85" fill="#fd2d5c"/>
<circle cx="408.8" cy="734.0" r="2.85" fill="#fd2d5c"/>
<circle cx="429.3" cy="737.7" r="2.85" fill="#fd2d5c"/>
<circle cx="449.7" cy="742.9" r="4.7" fill="#fd2d5c"/>
<polyline points="265.4,774.5 285.9,771.9 306.4,768.5 326.9,762.7 347.3,755.3 367.8,748.6 388.3,741.2 408.8,734.5 429.3,728.3 449.7,722.7 470.2,719.2 490.7,717.7 511.2,717.7 531.7,718.7 552.1,721.1 572.6,723.6 593.1,726.5 613.6,729.0 634.1,729.9 654.5,729.0" fill="none" stroke="#fd2d5c" stroke-width="2.5" stroke-linejoin="round" stroke-linecap="round"/>
<circle cx="285.9" cy="771.9" r="2.85" fill="#fd2d5c"/>
<circle cx="306.4" cy="768.5" r="2.85" fill="#fd2d5c"/>
<circle cx="326.9" cy="762.7" r="2.85" fill="#fd2d5c"/>
<circle cx="347.3" cy="755.3" r="2.85" fill="#fd2d5c"/>
<circle cx="367.8" cy="748.6" r="2.85" fill="#fd2d5c"/>
<circle cx="388.3" cy="741.2" r="2.85" fill="#fd2d5c"/>
<circle cx="408.8" cy="734.5" r="2.85" fill="#fd2d5c"/>
<circle cx="429.3" cy="728.3" r="2.85" fill="#fd2d5c"/>
<circle cx="449.7" cy="722.7" r="2.85" fill="#fd2d5c"/>
<circle cx="470.2" cy="719.2" r="2.85" fill="#fd2d5c"/>
<circle cx="490.7" cy="717.7" r="2.85" fill="#fd2d5c"/>
<circle cx="511.2" cy="717.7" r="2.85" fill="#fd2d5c"/>
<circle cx="531.7" cy="718.7" r="2.85" fill="#fd2d5c"/>
<circle cx="552.1" cy="721.1" r="2.85" fill="#fd2d5c"/>
<circle cx="572.6" cy="723.6" r="2.85" fill="#fd2d5c"/>
<circle cx="593.1" cy="726.5" r="2.85" fill="#fd2d5c"/>
<circle cx="613.6" cy="729.0" r="2.85" fill="#fd2d5c"/>
<circle cx="634.1" cy="729.9" r="2.85" fill="#fd2d5c"/>
<circle cx="654.5" cy="729.0" r="4.7" fill="#fd2d5c"/>
<line x1="81.1" y1="686.3" x2="81.1" y2="918" stroke="#a9b1b8" stroke-width="1.5" stroke-dasharray="6,5.22"/>
<line x1="265.41999999999996" y1="686.3" x2="265.41999999999996" y2="918" stroke="#a9b1b8" stroke-width="1.5" stroke-dasharray="6,5.22"/>
<line x1="449.74" y1="686.3" x2="449.74" y2="918" stroke="#a9b1b8" stroke-width="1.5" stroke-dasharray="6,5.22"/>
<line x1="654.5400000000001" y1="686.3" x2="654.5400000000001" y2="918" stroke="#a9b1b8" stroke-width="1.5" stroke-dasharray="6,5.22"/>
<circle cx="81.1" cy="897.7" r="4.7" fill="#383032"/>
<circle cx="265.4" cy="885.8" r="4.7" fill="#383032"/>
<circle cx="81.1" cy="758.2" r="4.7" fill="#fd2d5c"/>
<circle cx="265.4" cy="774.5" r="4.7" fill="#fd2d5c"/>
<circle cx="449.7" cy="742.9" r="4.7" fill="#fd2d5c"/>
<circle cx="654.5" cy="729" r="4.7" fill="#fd2d5c"/>
<line x1="81" y1="892.5" x2="81" y2="768.75" stroke="#000" stroke-width="3.2"/>
<path d="M81,763.8 L76.40,772.80 L81,771.36 L85.60,772.80 Z" fill="#000"/>
<line x1="265" y1="779.2" x2="265" y2="875.55" stroke="#000" stroke-width="3.2"/>
<path d="M265,880.5 L260.40,871.50 L265,872.94 L269.60,871.50 Z" fill="#000"/>
<text x="88.4" y="827" font-size="16.6" font-weight="bold">382 nm</text>
<text x="88.4" y="847.2" font-size="16" font-style="italic" style="fill:#808d96">0.2921</text>
<text x="202.4" y="827" font-size="16.6" font-weight="bold">481 nm</text>
<text x="202.4" y="847.2" font-size="16" font-style="italic" style="fill:#808d96">0.2662</text>
<line x1="163.1" y1="776.3" x2="177.8" y2="777.6" stroke="#757575" stroke-width="2.5"/>
<path d="M183.1,778.0 L176.0,780.7 L176.6,774.1 Z" fill="#757575"/>
<line x1="183.5" y1="885.8" x2="169.1" y2="887.0" stroke="#757575" stroke-width="2.5"/>
<path d="M163.8,887.4 L170.3,883.6 L170.8,890.1 Z" fill="#757575"/>
<text x="81.3" y="942" font-size="20.4" text-anchor="middle">FC<tspan font-size="13.8" dy="5.2"></tspan></text>
<text x="265" y="942" font-size="20.4" text-anchor="middle">S<tspan font-size="13.8" dy="5.2">1,min</tspan></text>
<text x="450.2" y="942" font-size="20.4" text-anchor="middle">CI<tspan font-size="13.8" dy="5.2">10,1pt</tspan></text>
<text x="655.1" y="942" font-size="20.4" text-anchor="middle">CI<tspan font-size="13.8" dy="5.2">10,2pt</tspan></text>
<text x="-0.5" y="698" font-size="30" font-weight="bold">c</text>
<text x="367.5" y="977.3" font-size="20.8" text-anchor="middle">Reaction coordinate</text>
<g id="a1">
<line x1="152.3" y1="31.3" x2="137.1" y2="31.3" stroke="#5a5a5a" stroke-width="1.2"/>
<line x1="159.9" y1="44.2" x2="152.3" y2="31.3" stroke="#5a5a5a" stroke-width="1.2"/>
<line x1="152.3" y1="57" x2="159.9" y2="44.2" stroke="#5a5a5a" stroke-width="1.2"/>
<line x1="137.1" y1="57" x2="152.3" y2="57" stroke="#5a5a5a" stroke-width="1.2"/>
<line x1="129.3" y1="44.2" x2="137.1" y2="57" stroke="#5a5a5a" stroke-width="1.2"/>
<line x1="130.5" y1="18" x2="137.1" y2="31.3" stroke="#5a5a5a" stroke-width="1.2"/>
<line x1="158.7" y1="18" x2="152.3" y2="31.3" stroke="#5a5a5a" stroke-width="1.2"/>
<line x1="120.5" y1="19" x2="130.5" y2="18" stroke="#5a5a5a" stroke-width="1.0"/>
<line x1="136.6" y1="12" x2="130.5" y2="18" stroke="#5a5a5a" stroke-width="1.0"/>
<line x1="155" y1="8" x2="158.7" y2="18" stroke="#5a5a5a" stroke-width="1.0"/>
<line x1="170" y1="18.5" x2="158.7" y2="18" stroke="#5a5a5a" stroke-width="1.0"/>
<line x1="113.8" y1="44.2" x2="129.3" y2="44.2" stroke="#5a5a5a" stroke-width="1.2"/>
<line x1="175.6" y1="44.2" x2="159.9" y2="44.2" stroke="#5a5a5a" stroke-width="1.2"/>
<line x1="106.4" y1="33.7" x2="113.8" y2="44.2" stroke="#5a5a5a" stroke-width="1.2"/>
<line x1="182.8" y1="33.7" x2="175.6" y2="44.2" stroke="#5a5a5a" stroke-width="1.2"/>
<line x1="106.1" y1="58.6" x2="113.8" y2="44.2" stroke="#5a5a5a" stroke-width="1.2"/>
<line x1="183.1" y1="58.6" x2="175.6" y2="44.2" stroke="#5a5a5a" stroke-width="1.2"/>
<line x1="94.8" y1="57" x2="106.1" y2="58.6" stroke="#5a5a5a" stroke-width="1.0"/>
<line x1="105.3" y1="69" x2="106.1" y2="58.6" stroke="#5a5a5a" stroke-width="1.0"/>
<line x1="112.5" y1="62.3" x2="106.1" y2="58.6" stroke="#5a5a5a" stroke-width="1.0"/>
<line x1="195.2" y1="57" x2="183.1" y2="58.6" stroke="#5a5a5a" stroke-width="1.0"/>
<line x1="184.7" y1="69" x2="183.1" y2="58.6" stroke="#5a5a5a" stroke-width="1.0"/>
<line x1="177.5" y1="62.6" x2="183.1" y2="58.6" stroke="#5a5a5a" stroke-width="1.0"/>
<line x1="132.1" y1="67.4" x2="137.1" y2="57" stroke="#5a5a5a" stroke-width="1.0"/>
<line x1="158.2" y1="67.1" x2="152.3" y2="57" stroke="#5a5a5a" stroke-width="1.0"/>
<line x1="129.3" y1="44.2" x2="137.1" y2="31.3" stroke="#5a5a5a" stroke-width="1.2"/>
<circle cx="120.5" cy="19" r="1.8" fill="url(#gH)"/>
<circle cx="136.6" cy="12" r="1.8" fill="url(#gH)"/>
<circle cx="155" cy="8" r="1.8" fill="url(#gH)"/>
<circle cx="170" cy="18.5" r="1.8" fill="url(#gH)"/>
<circle cx="94.8" cy="57" r="1.8" fill="url(#gH)"/>
<circle cx="105.3" cy="69" r="1.8" fill="url(#gH)"/>
<circle cx="112.5" cy="62.3" r="1.8" fill="url(#gH)"/>
<circle cx="195.2" cy="57" r="1.8" fill="url(#gH)"/>
<circle cx="184.7" cy="69" r="1.8" fill="url(#gH)"/>
<circle cx="177.5" cy="62.6" r="1.8" fill="url(#gH)"/>
<circle cx="132.1" cy="67.4" r="1.8" fill="url(#gH)"/>
<circle cx="158.2" cy="67.1" r="1.8" fill="url(#gH)"/>
<circle cx="137.1" cy="31.3" r="2.55" fill="url(#gC)"/>
<circle cx="152.3" cy="31.3" r="2.55" fill="url(#gC)"/>
<circle cx="159.9" cy="44.2" r="2.55" fill="url(#gC)"/>
<circle cx="152.3" cy="57" r="2.55" fill="url(#gC)"/>
<circle cx="137.1" cy="57" r="2.55" fill="url(#gC)"/>
<circle cx="129.3" cy="44.2" r="2.55" fill="url(#gC)"/>
<circle cx="130.5" cy="18" r="2.65" fill="url(#gN)"/>
<circle cx="158.7" cy="18" r="2.65" fill="url(#gN)"/>
<circle cx="113.8" cy="44.2" r="2.55" fill="url(#gC)"/>
<circle cx="175.6" cy="44.2" r="2.55" fill="url(#gC)"/>
<circle cx="106.4" cy="33.7" r="2.65" fill="url(#gO)"/>
<circle cx="182.8" cy="33.7" r="2.65" fill="url(#gO)"/>
<circle cx="106.1" cy="58.6" r="2.55" fill="url(#gC)"/>
<circle cx="183.1" cy="58.6" r="2.55" fill="url(#gC)"/>
</g>
<g id="a2">
<line x1="303.3" y1="31.6" x2="288.5" y2="31.6" stroke="#5a5a5a" stroke-width="1.2"/>
<line x1="311.3" y1="45.3" x2="303.3" y2="31.6" stroke="#5a5a5a" stroke-width="1.2"/>
<line x1="303.3" y1="57.3" x2="311.3" y2="45.3" stroke="#5a5a5a" stroke-width="1.2"/>
<line x1="288.5" y1="57.3" x2="303.3" y2="57.3" stroke="#5a5a5a" stroke-width="1.2"/>
<line x1="280" y1="45.3" x2="288.5" y2="57.3" stroke="#5a5a5a" stroke-width="1.2"/>
<line x1="281.1" y1="19" x2="288.5" y2="31.6" stroke="#5a5a5a" stroke-width="1.2"/>
<line x1="310.5" y1="18.5" x2="303.3" y2="31.6" stroke="#5a5a5a" stroke-width="1.2"/>
<line x1="271.1" y1="20.1" x2="281.1" y2="19" stroke="#5a5a5a" stroke-width="1.0"/>
<line x1="286.7" y1="12.5" x2="281.1" y2="19" stroke="#5a5a5a" stroke-width="1.0"/>
<line x1="306.8" y1="7.7" x2="310.5" y2="18.5" stroke="#5a5a5a" stroke-width="1.0"/>
<line x1="322.2" y1="19.6" x2="310.5" y2="18.5" stroke="#5a5a5a" stroke-width="1.0"/>
<line x1="264.2" y1="45.3" x2="280" y2="45.3" stroke="#5a5a5a" stroke-width="1.2"/>
<line x1="327" y1="45.3" x2="311.3" y2="45.3" stroke="#5a5a5a" stroke-width="1.2"/>
<line x1="256.7" y1="34" x2="264.2" y2="45.3" stroke="#5a5a5a" stroke-width="1.2"/>
<line x1="334.9" y1="34" x2="327" y2="45.3" stroke="#5a5a5a" stroke-width="1.2"/>
<line x1="255.9" y1="59.7" x2="264.2" y2="45.3" stroke="#5a5a5a" stroke-width="1.2"/>
<line x1="334.6" y1="59.4" x2="327" y2="45.3" stroke="#5a5a5a" stroke-width="1.2"/>
<line x1="244.2" y1="57.8" x2="255.9" y2="59.7" stroke="#5a5a5a" stroke-width="1.0"/>
<line x1="254.8" y1="70.2" x2="255.9" y2="59.7" stroke="#5a5a5a" stroke-width="1.0"/>
<line x1="261.5" y1="64.7" x2="255.9" y2="59.7" stroke="#5a5a5a" stroke-width="1.0"/>
<line x1="344.7" y1="57.5" x2="334.6" y2="59.4" stroke="#5a5a5a" stroke-width="1.0"/>
<line x1="337" y1="69.4" x2="334.6" y2="59.4" stroke="#5a5a5a" stroke-width="1.0"/>
<line x1="327.8" y1="63" x2="334.6" y2="59.4" stroke="#5a5a5a" stroke-width="1.0"/>
<line x1="282.9" y1="68.3" x2="288.5" y2="57.3" stroke="#5a5a5a" stroke-width="1.0"/>
<line x1="308.6" y1="68.3" x2="303.3" y2="57.3" stroke="#5a5a5a" stroke-width="1.0"/>
<line x1="280" y1="45.3" x2="288.5" y2="31.6" stroke="#5a5a5a" stroke-width="1.2"/>
<circle cx="271.1" cy="20.1" r="1.8" fill="url(#gH)"/>
<circle cx="286.7" cy="12.5" r="1.8" fill="url(#gH)"/>
<circle cx="306.8" cy="7.7" r="1.8" fill="url(#gH)"/>
<circle cx="322.2" cy="19.6" r="1.8" fill="url(#gH)"/>
<circle cx="244.2" cy="57.8" r="1.8" fill="url(#gH)"/>
<circle cx="254.8" cy="70.2" r="1.8" fill="url(#gH)"/>
<circle cx="261.5" cy="64.7" r="1.8" fill="url(#gH)"/>
<circle cx="344.7" cy="57.5" r="1.8" fill="url(#gH)"/>
<circle cx="337" cy="69.4" r="1.8" fill="url(#gH)"/>
<circle cx="327.8" cy="63" r="1.8" fill="url(#gH)"/>
<circle cx="282.9" cy="68.3" r="1.8" fill="url(#gH)"/>
<circle cx="308.6" cy="68.3" r="1.8" fill="url(#gH)"/>
<circle cx="288.5" cy="31.6" r="2.55" fill="url(#gC)"/>
<circle cx="303.3" cy="31.6" r="2.55" fill="url(#gC)"/>
<circle cx="311.3" cy="45.3" r="2.55" fill="url(#gC)"/>
<circle cx="303.3" cy="57.3" r="2.55" fill="url(#gC)"/>
<circle cx="288.5" cy="57.3" r="2.55" fill="url(#gC)"/>
<circle cx="280" cy="45.3" r="2.55" fill="url(#gC)"/>
<circle cx="281.1" cy="19" r="2.65" fill="url(#gN)"/>
<circle cx="310.5" cy="18.5" r="2.65" fill="url(#gN)"/>
<circle cx="264.2" cy="45.3" r="2.55" fill="url(#gC)"/>
<circle cx="327" cy="45.3" r="2.55" fill="url(#gC)"/>
<circle cx="256.7" cy="34" r="2.65" fill="url(#gO)"/>
<circle cx="334.9" cy="34" r="2.65" fill="url(#gO)"/>
<circle cx="255.9" cy="59.7" r="2.55" fill="url(#gC)"/>
<circle cx="334.6" cy="59.4" r="2.55" fill="url(#gC)"/>
</g>
<g id="a3">
<line x1="618.1" y1="87.4" x2="602.8" y2="86.2" stroke="#5a5a5a" stroke-width="1.2"/>
<line x1="626.3" y1="101.4" x2="618.1" y2="87.4" stroke="#5a5a5a" stroke-width="1.2"/>
<line x1="619.5" y1="113.3" x2="626.3" y2="101.4" stroke="#5a5a5a" stroke-width="1.2"/>
<line x1="603.5" y1="111.1" x2="619.5" y2="113.3" stroke="#5a5a5a" stroke-width="1.2"/>
<line x1="595.3" y1="99.7" x2="603.5" y2="111.1" stroke="#5a5a5a" stroke-width="1.2"/>
<line x1="596.5" y1="74.6" x2="602.8" y2="86.2" stroke="#5a5a5a" stroke-width="1.2"/>
<line x1="602.8" y1="66.9" x2="596.5" y2="74.6" stroke="#5a5a5a" stroke-width="1.0"/>
<line x1="626.8" y1="76" x2="618.1" y2="87.4" stroke="#5a5a5a" stroke-width="1.2"/>
<line x1="622.4" y1="64.6" x2="626.8" y2="76" stroke="#5a5a5a" stroke-width="1.0"/>
<line x1="638.7" y1="76" x2="626.8" y2="76" stroke="#5a5a5a" stroke-width="1.0"/>
<line x1="582.5" y1="101.4" x2="595.3" y2="99.7" stroke="#5a5a5a" stroke-width="1.2"/>
<line x1="577.2" y1="91.8" x2="582.5" y2="101.4" stroke="#5a5a5a" stroke-width="1.2"/>
<line x1="582.2" y1="83.4" x2="577.2" y2="91.8" stroke="#5a5a5a" stroke-width="1.0"/>
<line x1="573.7" y1="115.1" x2="582.5" y2="101.4" stroke="#5a5a5a" stroke-width="1.2"/>
<line x1="561.1" y1="115.4" x2="573.7" y2="115.1" stroke="#5a5a5a" stroke-width="1.0"/>
<line x1="579.2" y1="125.4" x2="573.7" y2="115.1" stroke="#5a5a5a" stroke-width="1.0"/>
<line x1="639.1" y1="100.5" x2="626.3" y2="101.4" stroke="#5a5a5a" stroke-width="1.2"/>
<line x1="643.5" y1="89.2" x2="639.1" y2="100.5" stroke="#5a5a5a" stroke-width="1.2"/>
<line x1="646.5" y1="112.8" x2="639.1" y2="100.5" stroke="#5a5a5a" stroke-width="1.2"/>
<line x1="658.9" y1="112.8" x2="646.5" y2="112.8" stroke="#5a5a5a" stroke-width="1.0"/>
<line x1="642.6" y1="123.3" x2="646.5" y2="112.8" stroke="#5a5a5a" stroke-width="1.0"/>
<line x1="596.2" y1="120.7" x2="603.5" y2="111.1" stroke="#5a5a5a" stroke-width="1.0"/>
<line x1="625.6" y1="126" x2="619.5" y2="113.3" stroke="#5a5a5a" stroke-width="1.0"/>
<line x1="595.3" y1="99.7" x2="602.8" y2="86.2" stroke="#5a5a5a" stroke-width="1.2"/>
<circle cx="602.8" cy="66.9" r="1.8" fill="url(#gH)"/>
<circle cx="622.4" cy="64.6" r="1.8" fill="url(#gH)"/>
<circle cx="638.7" cy="76" r="1.8" fill="url(#gH)"/>
<circle cx="582.2" cy="83.4" r="1.8" fill="url(#gH)"/>
<circle cx="561.1" cy="115.4" r="1.8" fill="url(#gH)"/>
<circle cx="579.2" cy="125.4" r="1.8" fill="url(#gH)"/>
<circle cx="658.9" cy="112.8" r="1.8" fill="url(#gH)"/>
<circle cx="642.6" cy="123.3" r="1.8" fill="url(#gH)"/>
<circle cx="596.2" cy="120.7" r="1.8" fill="url(#gH)"/>
<circle cx="625.6" cy="126" r="1.8" fill="url(#gH)"/>
<circle cx="602.8" cy="86.2" r="2.55" fill="url(#gC)"/>
<circle cx="618.1" cy="87.4" r="2.55" fill="url(#gC)"/>
<circle cx="626.3" cy="101.4" r="2.55" fill="url(#gC)"/>
<circle cx="619.5" cy="113.3" r="2.55" fill="url(#gC)"/>
<circle cx="603.5" cy="111.1" r="2.55" fill="url(#gC)"/>
<circle cx="595.3" cy="99.7" r="2.55" fill="url(#gC)"/>
<circle cx="596.5" cy="74.6" r="2.65" fill="url(#gN)"/>
<circle cx="626.8" cy="76" r="2.65" fill="url(#gN)"/>
<circle cx="582.5" cy="101.4" r="2.55" fill="url(#gC)"/>
<circle cx="577.2" cy="91.8" r="2.65" fill="url(#gO)"/>
<circle cx="573.7" cy="115.1" r="2.55" fill="url(#gC)"/>
<circle cx="639.1" cy="100.5" r="2.55" fill="url(#gC)"/>
<circle cx="643.5" cy="89.2" r="2.65" fill="url(#gO)"/>
<circle cx="646.5" cy="112.8" r="2.55" fill="url(#gC)"/>
</g>
<g id="a4">
<line x1="490" y1="144.9" x2="475.6" y2="145.7" stroke="#5a5a5a" stroke-width="1.2"/>
<line x1="498.1" y1="158.2" x2="490" y2="144.9" stroke="#5a5a5a" stroke-width="1.2"/>
<line x1="489.7" y1="167.9" x2="498.1" y2="158.2" stroke="#5a5a5a" stroke-width="1.2"/>
<line x1="475.9" y1="165.4" x2="489.7" y2="167.9" stroke="#5a5a5a" stroke-width="1.2"/>
<line x1="467.1" y1="159" x2="475.9" y2="165.4" stroke="#5a5a5a" stroke-width="1.2"/>
<line x1="468.7" y1="135.6" x2="475.6" y2="145.7" stroke="#5a5a5a" stroke-width="1.2"/>
<line x1="458.7" y1="135.6" x2="468.7" y2="135.6" stroke="#5a5a5a" stroke-width="1.0"/>
<line x1="472.9" y1="131.7" x2="468.7" y2="135.6" stroke="#5a5a5a" stroke-width="1.0"/>
<line x1="496.8" y1="132.4" x2="490" y2="144.9" stroke="#5a5a5a" stroke-width="1.2"/>
<line x1="492.1" y1="122.7" x2="496.8" y2="132.4" stroke="#5a5a5a" stroke-width="1.0"/>
<line x1="508" y1="132.4" x2="496.8" y2="132.4" stroke="#5a5a5a" stroke-width="1.0"/>
<line x1="451.5" y1="159.7" x2="467.1" y2="159" stroke="#5a5a5a" stroke-width="1.2"/>
<line x1="442.7" y1="148.6" x2="451.5" y2="159.7" stroke="#5a5a5a" stroke-width="1.2"/>
<line x1="443.8" y1="174.1" x2="451.5" y2="159.7" stroke="#5a5a5a" stroke-width="1.2"/>
<line x1="431.4" y1="178.6" x2="443.8" y2="174.1" stroke="#5a5a5a" stroke-width="1.0"/>
<line x1="451.2" y1="183.1" x2="443.8" y2="174.1" stroke="#5a5a5a" stroke-width="1.0"/>
<line x1="441" y1="172.2" x2="443.8" y2="174.1" stroke="#5a5a5a" stroke-width="1.0"/>
<line x1="513.8" y1="159.7" x2="498.1" y2="158.2" stroke="#5a5a5a" stroke-width="1.2"/>
<line x1="522.2" y1="148.9" x2="513.8" y2="159.7" stroke="#5a5a5a" stroke-width="1.2"/>
<line x1="520.9" y1="174.6" x2="513.8" y2="159.7" stroke="#5a5a5a" stroke-width="1.2"/>
<line x1="534.2" y1="173.8" x2="520.9" y2="174.6" stroke="#5a5a5a" stroke-width="1.0"/>
<line x1="519" y1="185" x2="520.9" y2="174.6" stroke="#5a5a5a" stroke-width="1.0"/>
<line x1="516.5" y1="177" x2="520.9" y2="174.6" stroke="#5a5a5a" stroke-width="1.0"/>
<line x1="472.9" y1="169.8" x2="475.9" y2="165.4" stroke="#5a5a5a" stroke-width="1.0"/>
<line x1="493.6" y1="177.5" x2="489.7" y2="167.9" stroke="#5a5a5a" stroke-width="1.0"/>
<line x1="467.1" y1="159" x2="475.6" y2="145.7" stroke="#5a5a5a" stroke-width="1.2"/>
<circle cx="458.7" cy="135.6" r="1.8" fill="url(#gH)"/>
<circle cx="472.9" cy="131.7" r="1.8" fill="url(#gH)"/>
<circle cx="492.1" cy="122.7" r="1.8" fill="url(#gH)"/>
<circle cx="508" cy="132.4" r="1.8" fill="url(#gH)"/>
<circle cx="431.4" cy="178.6" r="1.8" fill="url(#gH)"/>
<circle cx="451.2" cy="183.1" r="1.8" fill="url(#gH)"/>
<circle cx="441" cy="172.2" r="1.8" fill="url(#gH)"/>
<circle cx="534.2" cy="173.8" r="1.8" fill="url(#gH)"/>
<circle cx="519" cy="185" r="1.8" fill="url(#gH)"/>
<circle cx="516.5" cy="177" r="1.8" fill="url(#gH)"/>
<circle cx="472.9" cy="169.8" r="1.8" fill="url(#gH)"/>
<circle cx="493.6" cy="177.5" r="1.8" fill="url(#gH)"/>
<circle cx="475.6" cy="145.7" r="2.55" fill="url(#gC)"/>
<circle cx="490" cy="144.9" r="2.55" fill="url(#gC)"/>
<circle cx="498.1" cy="158.2" r="2.55" fill="url(#gC)"/>
<circle cx="489.7" cy="167.9" r="2.55" fill="url(#gC)"/>
<circle cx="475.9" cy="165.4" r="2.55" fill="url(#gC)"/>
<circle cx="467.1" cy="159" r="2.55" fill="url(#gC)"/>
<circle cx="468.7" cy="135.6" r="2.65" fill="url(#gN)"/>
<circle cx="496.8" cy="132.4" r="2.65" fill="url(#gN)"/>
<circle cx="451.5" cy="159.7" r="2.55" fill="url(#gC)"/>
<circle cx="442.7" cy="148.6" r="2.65" fill="url(#gO)"/>
<circle cx="443.8" cy="174.1" r="2.55" fill="url(#gC)"/>
<circle cx="513.8" cy="159.7" r="2.55" fill="url(#gC)"/>
<circle cx="522.2" cy="148.9" r="2.65" fill="url(#gO)"/>
<circle cx="520.9" cy="174.6" r="2.55" fill="url(#gC)"/>
</g>
<g id="b1">
<line x1="143.3" y1="341.7" x2="129.3" y2="334.1" stroke="#5a5a5a" stroke-width="1.2"/>
<line x1="143.3" y1="358" x2="143.3" y2="341.7" stroke="#5a5a5a" stroke-width="1.2"/>
<line x1="129.3" y1="365.3" x2="143.3" y2="358" stroke="#5a5a5a" stroke-width="1.2"/>
<line x1="115.3" y1="358" x2="129.3" y2="365.3" stroke="#5a5a5a" stroke-width="1.2"/>
<line x1="115.3" y1="341.7" x2="115.3" y2="358" stroke="#5a5a5a" stroke-width="1.2"/>
<line x1="129.7" y1="321.5" x2="129.3" y2="334.1" stroke="#5a5a5a" stroke-width="1.0"/>
<line x1="129.7" y1="377.9" x2="129.3" y2="365.3" stroke="#5a5a5a" stroke-width="1.0"/>
<line x1="102.7" y1="333.4" x2="115.3" y2="341.7" stroke="#5a5a5a" stroke-width="1.2"/>
<line x1="104.3" y1="321.2" x2="102.7" y2="333.4" stroke="#5a5a5a" stroke-width="1.0"/>
<line x1="93" y1="338.1" x2="102.7" y2="333.4" stroke="#5a5a5a" stroke-width="1.0"/>
<line x1="155.6" y1="333.4" x2="143.3" y2="341.7" stroke="#5a5a5a" stroke-width="1.2"/>
<line x1="155.9" y1="321.2" x2="155.6" y2="333.4" stroke="#5a5a5a" stroke-width="1.0"/>
<line x1="164.7" y1="338.1" x2="155.6" y2="333.4" stroke="#5a5a5a" stroke-width="1.0"/>
<line x1="100.9" y1="366.2" x2="115.3" y2="358" stroke="#5a5a5a" stroke-width="1.2"/>
<line x1="87.6" y1="360" x2="100.9" y2="366.2" stroke="#5a5a5a" stroke-width="1.2"/>
<line x1="100.4" y1="382.8" x2="100.9" y2="366.2" stroke="#5a5a5a" stroke-width="1.2"/>
<line x1="91.1" y1="385.1" x2="100.4" y2="382.8" stroke="#5a5a5a" stroke-width="1.0"/>
<line x1="110" y1="384.2" x2="100.4" y2="382.8" stroke="#5a5a5a" stroke-width="1.0"/>
<line x1="101.3" y1="390.7" x2="100.4" y2="382.8" stroke="#5a5a5a" stroke-width="1.0"/>
<line x1="157.3" y1="366.7" x2="143.3" y2="358" stroke="#5a5a5a" stroke-width="1.2"/>
<line x1="170.1" y1="360" x2="157.3" y2="366.7" stroke="#5a5a5a" stroke-width="1.2"/>
<line x1="157.3" y1="382.8" x2="157.3" y2="366.7" stroke="#5a5a5a" stroke-width="1.2"/>
<line x1="146.8" y1="386.3" x2="157.3" y2="382.8" stroke="#5a5a5a" stroke-width="1.0"/>
<line x1="165.2" y1="391.2" x2="157.3" y2="382.8" stroke="#5a5a5a" stroke-width="1.0"/>
<line x1="163.5" y1="384.2" x2="157.3" y2="382.8" stroke="#5a5a5a" stroke-width="1.0"/>
<line x1="115.3" y1="341.7" x2="129.3" y2="334.1" stroke="#5a5a5a" stroke-width="1.2"/>
<circle cx="129.7" cy="321.5" r="1.8" fill="url(#gH)"/>
<circle cx="129.7" cy="377.9" r="1.8" fill="url(#gH)"/>
<circle cx="104.3" cy="321.2" r="1.8" fill="url(#gH)"/>
<circle cx="93" cy="338.1" r="1.8" fill="url(#gH)"/>
<circle cx="155.9" cy="321.2" r="1.8" fill="url(#gH)"/>
<circle cx="164.7" cy="338.1" r="1.8" fill="url(#gH)"/>
<circle cx="91.1" cy="385.1" r="1.8" fill="url(#gH)"/>
<circle cx="110" cy="384.2" r="1.8" fill="url(#gH)"/>
<circle cx="101.3" cy="390.7" r="1.8" fill="url(#gH)"/>
<circle cx="146.8" cy="386.3" r="1.8" fill="url(#gH)"/>
<circle cx="165.2" cy="391.2" r="1.8" fill="url(#gH)"/>
<circle cx="163.5" cy="384.2" r="1.8" fill="url(#gH)"/>
<circle cx="129.3" cy="334.1" r="2.55" fill="url(#gC)"/>
<circle cx="143.3" cy="341.7" r="2.55" fill="url(#gC)"/>
<circle cx="143.3" cy="358" r="2.55" fill="url(#gC)"/>
<circle cx="129.3" cy="365.3" r="2.55" fill="url(#gC)"/>
<circle cx="115.3" cy="358" r="2.55" fill="url(#gC)"/>
<circle cx="115.3" cy="341.7" r="2.55" fill="url(#gC)"/>
<circle cx="102.7" cy="333.4" r="2.65" fill="url(#gN)"/>
<circle cx="155.6" cy="333.4" r="2.65" fill="url(#gN)"/>
<circle cx="100.9" cy="366.2" r="2.55" fill="url(#gC)"/>
<circle cx="87.6" cy="360" r="2.65" fill="url(#gO)"/>
<circle cx="100.4" cy="382.8" r="2.55" fill="url(#gC)"/>
<circle cx="157.3" cy="366.7" r="2.55" fill="url(#gC)"/>
<circle cx="170.1" cy="360" r="2.65" fill="url(#gO)"/>
<circle cx="157.3" cy="382.8" r="2.55" fill="url(#gC)"/>
</g>
<g id="b2">
<line x1="212.1" y1="440.5" x2="197.7" y2="432.5" stroke="#5a5a5a" stroke-width="1.2"/>
<line x1="212.1" y1="457.4" x2="212.1" y2="440.5" stroke="#5a5a5a" stroke-width="1.2"/>
<line x1="197.7" y1="464.6" x2="212.1" y2="457.4" stroke="#5a5a5a" stroke-width="1.2"/>
<line x1="183.2" y1="457.4" x2="197.7" y2="464.6" stroke="#5a5a5a" stroke-width="1.2"/>
<line x1="183.2" y1="440.5" x2="183.2" y2="457.4" stroke="#5a5a5a" stroke-width="1.2"/>
<line x1="198" y1="420" x2="197.7" y2="432.5" stroke="#5a5a5a" stroke-width="1.0"/>
<line x1="198" y1="475.5" x2="197.7" y2="464.6" stroke="#5a5a5a" stroke-width="1.0"/>
<line x1="169.6" y1="432.5" x2="183.2" y2="440.5" stroke="#5a5a5a" stroke-width="1.2"/>
<line x1="169.6" y1="420" x2="169.6" y2="432.5" stroke="#5a5a5a" stroke-width="1.0"/>
<line x1="159.8" y1="439.2" x2="169.6" y2="432.5" stroke="#5a5a5a" stroke-width="1.0"/>
<line x1="225.8" y1="432.5" x2="212.1" y2="440.5" stroke="#5a5a5a" stroke-width="1.2"/>
<line x1="226.4" y1="420" x2="225.8" y2="432.5" stroke="#5a5a5a" stroke-width="1.0"/>
<line x1="236.2" y1="439.2" x2="225.8" y2="432.5" stroke="#5a5a5a" stroke-width="1.0"/>
<line x1="168.6" y1="466.2" x2="183.2" y2="457.4" stroke="#5a5a5a" stroke-width="1.2"/>
<line x1="155" y1="459.5" x2="168.6" y2="466.2" stroke="#5a5a5a" stroke-width="1.2"/>
<line x1="169.1" y1="483.9" x2="168.6" y2="466.2" stroke="#5a5a5a" stroke-width="1.2"/>
<line x1="156.6" y1="489.8" x2="169.1" y2="483.9" stroke="#5a5a5a" stroke-width="1.0"/>
<line x1="177.1" y1="491.1" x2="169.1" y2="483.9" stroke="#5a5a5a" stroke-width="1.0"/>
<line x1="174.7" y1="485.5" x2="169.1" y2="483.9" stroke="#5a5a5a" stroke-width="1.0"/>
<line x1="226.9" y1="466.2" x2="212.1" y2="457.4" stroke="#5a5a5a" stroke-width="1.2"/>
<line x1="240.6" y1="459.5" x2="226.9" y2="466.2" stroke="#5a5a5a" stroke-width="1.2"/>
<line x1="226.6" y1="483.9" x2="226.9" y2="466.2" stroke="#5a5a5a" stroke-width="1.2"/>
<line x1="239.7" y1="489.5" x2="226.6" y2="483.9" stroke="#5a5a5a" stroke-width="1.0"/>
<line x1="219.2" y1="491.1" x2="226.6" y2="483.9" stroke="#5a5a5a" stroke-width="1.0"/>
<line x1="220.5" y1="485.5" x2="226.6" y2="483.9" stroke="#5a5a5a" stroke-width="1.0"/>
<line x1="183.2" y1="440.5" x2="197.7" y2="432.5" stroke="#5a5a5a" stroke-width="1.2"/>
<circle cx="198" cy="420" r="1.8" fill="url(#gH)"/>
<circle cx="198" cy="475.5" r="1.8" fill="url(#gH)"/>
<circle cx="169.6" cy="420" r="1.8" fill="url(#gH)"/>
<circle cx="159.8" cy="439.2" r="1.8" fill="url(#gH)"/>
<circle cx="226.4" cy="420" r="1.8" fill="url(#gH)"/>
<circle cx="236.2" cy="439.2" r="1.8" fill="url(#gH)"/>
<circle cx="156.6" cy="489.8" r="1.8" fill="url(#gH)"/>
<circle cx="177.1" cy="491.1" r="1.8" fill="url(#gH)"/>
<circle cx="174.7" cy="485.5" r="1.8" fill="url(#gH)"/>
<circle cx="239.7" cy="489.5" r="1.8" fill="url(#gH)"/>
<circle cx="219.2" cy="491.1" r="1.8" fill="url(#gH)"/>
<circle cx="220.5" cy="485.5" r="1.8" fill="url(#gH)"/>
<circle cx="197.7" cy="432.5" r="2.55" fill="url(#gC)"/>
<circle cx="212.1" cy="440.5" r="2.55" fill="url(#gC)"/>
<circle cx="212.1" cy="457.4" r="2.55" fill="url(#gC)"/>
<circle cx="197.7" cy="464.6" r="2.55" fill="url(#gC)"/>
<circle cx="183.2" cy="457.4" r="2.55" fill="url(#gC)"/>
<circle cx="183.2" cy="440.5" r="2.55" fill="url(#gC)"/>
<circle cx="169.6" cy="432.5" r="2.65" fill="url(#gN)"/>
<circle cx="225.8" cy="432.5" r="2.65" fill="url(#gN)"/>
<circle cx="168.6" cy="466.2" r="2.55" fill="url(#gC)"/>
<circle cx="155" cy="459.5" r="2.65" fill="url(#gO)"/>
<circle cx="169.1" cy="483.9" r="2.55" fill="url(#gC)"/>
<circle cx="226.9" cy="466.2" r="2.55" fill="url(#gC)"/>
<circle cx="240.6" cy="459.5" r="2.65" fill="url(#gO)"/>
<circle cx="226.6" cy="483.9" r="2.55" fill="url(#gC)"/>
</g>
<g id="b3">
<line x1="400.2" y1="547.9" x2="385.7" y2="540.2" stroke="#5a5a5a" stroke-width="1.2"/>
<line x1="400.2" y1="564.3" x2="400.2" y2="547.9" stroke="#5a5a5a" stroke-width="1.2"/>
<line x1="386" y1="571.5" x2="400.2" y2="564.3" stroke="#5a5a5a" stroke-width="1.2"/>
<line x1="371.6" y1="564.3" x2="386" y2="571.5" stroke="#5a5a5a" stroke-width="1.2"/>
<line x1="371.6" y1="548.2" x2="371.6" y2="564.3" stroke="#5a5a5a" stroke-width="1.2"/>
<line x1="385.7" y1="528" x2="385.7" y2="540.2" stroke="#5a5a5a" stroke-width="1.0"/>
<line x1="386.5" y1="584.2" x2="386" y2="571.5" stroke="#5a5a5a" stroke-width="1.0"/>
<line x1="358.7" y1="539.9" x2="371.6" y2="548.2" stroke="#5a5a5a" stroke-width="1.2"/>
<line x1="359" y1="529" x2="358.7" y2="539.9" stroke="#5a5a5a" stroke-width="1.0"/>
<line x1="349.1" y1="546.3" x2="358.7" y2="539.9" stroke="#5a5a5a" stroke-width="1.0"/>
<line x1="413" y1="539.9" x2="400.2" y2="547.9" stroke="#5a5a5a" stroke-width="1.2"/>
<line x1="412.5" y1="528.8" x2="413" y2="539.9" stroke="#5a5a5a" stroke-width="1.0"/>
<line x1="357.6" y1="572.6" x2="371.6" y2="564.3" stroke="#5a5a5a" stroke-width="1.2"/>
<line x1="344.8" y1="566.2" x2="357.6" y2="572.6" stroke="#5a5a5a" stroke-width="1.2"/>
<line x1="357.9" y1="589.5" x2="357.6" y2="572.6" stroke="#5a5a5a" stroke-width="1.2"/>
<line x1="346.7" y1="593.8" x2="357.9" y2="589.5" stroke="#5a5a5a" stroke-width="1.0"/>
<line x1="366.4" y1="591.6" x2="357.9" y2="589.5" stroke="#5a5a5a" stroke-width="1.0"/>
<line x1="362" y1="597.5" x2="357.9" y2="589.5" stroke="#5a5a5a" stroke-width="1.0"/>
<line x1="414.6" y1="572.3" x2="400.2" y2="564.3" stroke="#5a5a5a" stroke-width="1.2"/>
<line x1="428.1" y1="565.7" x2="414.6" y2="572.3" stroke="#5a5a5a" stroke-width="1.2"/>
<line x1="427" y1="555.3" x2="428.1" y2="565.7" stroke="#5a5a5a" stroke-width="1.0"/>
<line x1="415.3" y1="588.7" x2="414.6" y2="572.3" stroke="#5a5a5a" stroke-width="1.2"/>
<line x1="427.8" y1="593" x2="415.3" y2="588.7" stroke="#5a5a5a" stroke-width="1.0"/>
<line x1="407.7" y1="591.9" x2="415.3" y2="588.7" stroke="#5a5a5a" stroke-width="1.0"/>
<line x1="411.7" y1="597.5" x2="415.3" y2="588.7" stroke="#5a5a5a" stroke-width="1.0"/>
<line x1="371.6" y1="548.2" x2="385.7" y2="540.2" stroke="#5a5a5a" stroke-width="1.2"/>
<circle cx="385.7" cy="528" r="1.8" fill="url(#gH)"/>
<circle cx="386.5" cy="584.2" r="1.8" fill="url(#gH)"/>
<circle cx="359" cy="529" r="1.8" fill="url(#gH)"/>
<circle cx="349.1" cy="546.3" r="1.8" fill="url(#gH)"/>
<circle cx="412.5" cy="528.8" r="1.8" fill="url(#gH)"/>
<circle cx="346.7" cy="593.8" r="1.8" fill="url(#gH)"/>
<circle cx="366.4" cy="591.6" r="1.8" fill="url(#gH)"/>
<circle cx="362" cy="597.5" r="1.8" fill="url(#gH)"/>
<circle cx="427" cy="555.3" r="1.8" fill="url(#gH)"/>
<circle cx="427.8" cy="593" r="1.8" fill="url(#gH)"/>
<circle cx="407.7" cy="591.9" r="1.8" fill="url(#gH)"/>
<circle cx="411.7" cy="597.5" r="1.8" fill="url(#gH)"/>
<circle cx="385.7" cy="540.2" r="2.55" fill="url(#gC)"/>
<circle cx="400.2" cy="547.9" r="2.55" fill="url(#gC)"/>
<circle cx="400.2" cy="564.3" r="2.55" fill="url(#gC)"/>
<circle cx="386" cy="571.5" r="2.55" fill="url(#gC)"/>
<circle cx="371.6" cy="564.3" r="2.55" fill="url(#gC)"/>
<circle cx="371.6" cy="548.2" r="2.55" fill="url(#gC)"/>
<circle cx="358.7" cy="539.9" r="2.65" fill="url(#gN)"/>
<circle cx="413" cy="539.9" r="2.65" fill="url(#gN)"/>
<circle cx="357.6" cy="572.6" r="2.55" fill="url(#gC)"/>
<circle cx="344.8" cy="566.2" r="2.65" fill="url(#gO)"/>
<circle cx="357.9" cy="589.5" r="2.55" fill="url(#gC)"/>
<circle cx="414.6" cy="572.3" r="2.55" fill="url(#gC)"/>
<circle cx="428.1" cy="565.7" r="2.65" fill="url(#gO)"/>
<circle cx="415.3" cy="588.7" r="2.55" fill="url(#gC)"/>
</g>
<g id="b4">
<line x1="529.4" y1="500" x2="515.2" y2="492.5" stroke="#5a5a5a" stroke-width="1.2"/>
<line x1="529.4" y1="516.6" x2="529.4" y2="500" stroke="#5a5a5a" stroke-width="1.2"/>
<line x1="515.2" y1="524.1" x2="529.4" y2="516.6" stroke="#5a5a5a" stroke-width="1.2"/>
<line x1="501.1" y1="516.6" x2="515.2" y2="524.1" stroke="#5a5a5a" stroke-width="1.2"/>
<line x1="501.1" y1="500" x2="501.1" y2="516.6" stroke="#5a5a5a" stroke-width="1.2"/>
<line x1="515.5" y1="480.4" x2="515.2" y2="492.5" stroke="#5a5a5a" stroke-width="1.0"/>
<line x1="515.5" y1="536.2" x2="515.2" y2="524.1" stroke="#5a5a5a" stroke-width="1.0"/>
<line x1="487.9" y1="492.5" x2="501.1" y2="500" stroke="#5a5a5a" stroke-width="1.2"/>
<line x1="490.3" y1="481.2" x2="487.9" y2="492.5" stroke="#5a5a5a" stroke-width="1.0"/>
<line x1="542.2" y1="492.5" x2="529.4" y2="500" stroke="#5a5a5a" stroke-width="1.2"/>
<line x1="541.4" y1="481.2" x2="542.2" y2="492.5" stroke="#5a5a5a" stroke-width="1.0"/>
<line x1="487.6" y1="524.6" x2="501.1" y2="516.6" stroke="#5a5a5a" stroke-width="1.2"/>
<line x1="473.8" y1="517.9" x2="487.6" y2="524.6" stroke="#5a5a5a" stroke-width="1.2"/>
<line x1="475.4" y1="507.3" x2="473.8" y2="517.9" stroke="#5a5a5a" stroke-width="1.0"/>
<line x1="486.6" y1="541.1" x2="487.6" y2="524.6" stroke="#5a5a5a" stroke-width="1.2"/>
<line x1="475.4" y1="545" x2="486.6" y2="541.1" stroke="#5a5a5a" stroke-width="1.0"/>
<line x1="495.1" y1="543.9" x2="486.6" y2="541.1" stroke="#5a5a5a" stroke-width="1.0"/>
<line x1="489" y1="550.3" x2="486.6" y2="541.1" stroke="#5a5a5a" stroke-width="1.0"/>
<line x1="542.8" y1="524.6" x2="529.4" y2="516.6" stroke="#5a5a5a" stroke-width="1.2"/>
<line x1="556.5" y1="517.9" x2="542.8" y2="524.6" stroke="#5a5a5a" stroke-width="1.2"/>
<line x1="555.7" y1="507.3" x2="556.5" y2="517.9" stroke="#5a5a5a" stroke-width="1.0"/>
<line x1="543.6" y1="541.1" x2="542.8" y2="524.6" stroke="#5a5a5a" stroke-width="1.2"/>
<line x1="555.7" y1="545" x2="543.6" y2="541.1" stroke="#5a5a5a" stroke-width="1.0"/>
<line x1="536.1" y1="544.2" x2="543.6" y2="541.1" stroke="#5a5a5a" stroke-width="1.0"/>
<line x1="541.7" y1="550" x2="543.6" y2="541.1" stroke="#5a5a5a" stroke-width="1.0"/>
<line x1="501.1" y1="500" x2="515.2" y2="492.5" stroke="#5a5a5a" stroke-width="1.2"/>
<circle cx="515.5" cy="480.4" r="1.8" fill="url(#gH)"/>
<circle cx="515.5" cy="536.2" r="1.8" fill="url(#gH)"/>
<circle cx="490.3" cy="481.2" r="1.8" fill="url(#gH)"/>
<circle cx="541.4" cy="481.2" r="1.8" fill="url(#gH)"/>
<circle cx="475.4" cy="507.3" r="1.8" fill="url(#gH)"/>
<circle cx="475.4" cy="545" r="1.8" fill="url(#gH)"/>
<circle cx="495.1" cy="543.9" r="1.8" fill="url(#gH)"/>
<circle cx="489" cy="550.3" r="1.8" fill="url(#gH)"/>
<circle cx="555.7" cy="507.3" r="1.8" fill="url(#gH)"/>
<circle cx="555.7" cy="545" r="1.8" fill="url(#gH)"/>
<circle cx="536.1" cy="544.2" r="1.8" fill="url(#gH)"/>
<circle cx="541.7" cy="550" r="1.8" fill="url(#gH)"/>
<circle cx="515.2" cy="492.5" r="2.55" fill="url(#gC)"/>
<circle cx="529.4" cy="500" r="2.55" fill="url(#gC)"/>
<circle cx="529.4" cy="516.6" r="2.55" fill="url(#gC)"/>
<circle cx="515.2" cy="524.1" r="2.55" fill="url(#gC)"/>
<circle cx="501.1" cy="516.6" r="2.55" fill="url(#gC)"/>
<circle cx="501.1" cy="500" r="2.55" fill="url(#gC)"/>
<circle cx="487.9" cy="492.5" r="2.65" fill="url(#gN)"/>
<circle cx="542.2" cy="492.5" r="2.65" fill="url(#gN)"/>
<circle cx="487.6" cy="524.6" r="2.55" fill="url(#gC)"/>
<circle cx="473.8" cy="517.9" r="2.65" fill="url(#gO)"/>
<circle cx="486.6" cy="541.1" r="2.55" fill="url(#gC)"/>
<circle cx="542.8" cy="524.6" r="2.55" fill="url(#gC)"/>
<circle cx="556.5" cy="517.9" r="2.65" fill="url(#gO)"/>
<circle cx="543.6" cy="541.1" r="2.55" fill="url(#gC)"/>
</g>
<g id="b5">
<line x1="635" y1="472.3" x2="621.4" y2="464.8" stroke="#5a5a5a" stroke-width="1.2"/>
<line x1="635" y1="487.6" x2="635" y2="472.3" stroke="#5a5a5a" stroke-width="1.2"/>
<line x1="621.4" y1="494.8" x2="635" y2="487.6" stroke="#5a5a5a" stroke-width="1.2"/>
<line x1="607.4" y1="487.6" x2="621.4" y2="494.8" stroke="#5a5a5a" stroke-width="1.2"/>
<line x1="607.4" y1="472.3" x2="607.4" y2="487.6" stroke="#5a5a5a" stroke-width="1.2"/>
<line x1="621.7" y1="453" x2="621.4" y2="464.8" stroke="#5a5a5a" stroke-width="1.0"/>
<line x1="621.7" y1="506.5" x2="621.4" y2="494.8" stroke="#5a5a5a" stroke-width="1.0"/>
<line x1="596" y1="464.6" x2="607.4" y2="472.3" stroke="#5a5a5a" stroke-width="1.2"/>
<line x1="598.6" y1="453.8" x2="596" y2="464.6" stroke="#5a5a5a" stroke-width="1.0"/>
<line x1="646.8" y1="464.3" x2="635" y2="472.3" stroke="#5a5a5a" stroke-width="1.2"/>
<line x1="645.5" y1="453.8" x2="646.8" y2="464.3" stroke="#5a5a5a" stroke-width="1.0"/>
<line x1="594.9" y1="495.3" x2="607.4" y2="487.6" stroke="#5a5a5a" stroke-width="1.2"/>
<line x1="581.6" y1="488.7" x2="594.9" y2="495.3" stroke="#5a5a5a" stroke-width="1.2"/>
<line x1="583.3" y1="478.7" x2="581.6" y2="488.7" stroke="#5a5a5a" stroke-width="1.0"/>
<line x1="594.1" y1="510.8" x2="594.9" y2="495.3" stroke="#5a5a5a" stroke-width="1.2"/>
<line x1="583.7" y1="514.9" x2="594.1" y2="510.8" stroke="#5a5a5a" stroke-width="1.0"/>
<line x1="602.1" y1="513.7" x2="594.1" y2="510.8" stroke="#5a5a5a" stroke-width="1.0"/>
<line x1="597.3" y1="519.2" x2="594.1" y2="510.8" stroke="#5a5a5a" stroke-width="1.0"/>
<line x1="648.2" y1="495.3" x2="635" y2="487.6" stroke="#5a5a5a" stroke-width="1.2"/>
<line x1="661.1" y1="488.7" x2="648.2" y2="495.3" stroke="#5a5a5a" stroke-width="1.2"/>
<line x1="661.1" y1="478.7" x2="661.1" y2="488.7" stroke="#5a5a5a" stroke-width="1.0"/>
<line x1="648.7" y1="510.8" x2="648.2" y2="495.3" stroke="#5a5a5a" stroke-width="1.2"/>
<line x1="659.9" y1="514.9" x2="648.7" y2="510.8" stroke="#5a5a5a" stroke-width="1.0"/>
<line x1="641.5" y1="513.7" x2="648.7" y2="510.8" stroke="#5a5a5a" stroke-width="1.0"/>
<line x1="646" y1="519.2" x2="648.7" y2="510.8" stroke="#5a5a5a" stroke-width="1.0"/>
<line x1="607.4" y1="472.3" x2="621.4" y2="464.8" stroke="#5a5a5a" stroke-width="1.2"/>
<circle cx="621.7" cy="453" r="1.8" fill="url(#gH)"/>
<circle cx="621.7" cy="506.5" r="1.8" fill="url(#gH)"/>
<circle cx="598.6" cy="453.8" r="1.8" fill="url(#gH)"/>
<circle cx="645.5" cy="453.8" r="1.8" fill="url(#gH)"/>
<circle cx="583.3" cy="478.7" r="1.8" fill="url(#gH)"/>
<circle cx="583.7" cy="514.9" r="1.8" fill="url(#gH)"/>
<circle cx="602.1" cy="513.7" r="1.8" fill="url(#gH)"/>
<circle cx="597.3" cy="519.2" r="1.8" fill="url(#gH)"/>
<circle cx="661.1" cy="478.7" r="1.8" fill="url(#gH)"/>
<circle cx="659.9" cy="514.9" r="1.8" fill="url(#gH)"/>
<circle cx="641.5" cy="513.7" r="1.8" fill="url(#gH)"/>
<circle cx="646" cy="519.2" r="1.8" fill="url(#gH)"/>
<circle cx="621.4" cy="464.8" r="2.55" fill="url(#gC)"/>
<circle cx="635" cy="472.3" r="2.55" fill="url(#gC)"/>
<circle cx="635" cy="487.6" r="2.55" fill="url(#gC)"/>
<circle cx="621.4" cy="494.8" r="2.55" fill="url(#gC)"/>
<circle cx="607.4" cy="487.6" r="2.55" fill="url(#gC)"/>
<circle cx="607.4" cy="472.3" r="2.55" fill="url(#gC)"/>
<circle cx="596" cy="464.6" r="2.65" fill="url(#gN)"/>
<circle cx="646.8" cy="464.3" r="2.65" fill="url(#gN)"/>
<circle cx="594.9" cy="495.3" r="2.55" fill="url(#gC)"/>
<circle cx="581.6" cy="488.7" r="2.65" fill="url(#gO)"/>
<circle cx="594.1" cy="510.8" r="2.55" fill="url(#gC)"/>
<circle cx="648.2" cy="495.3" r="2.55" fill="url(#gC)"/>
<circle cx="661.1" cy="488.7" r="2.65" fill="url(#gO)"/>
<circle cx="648.7" cy="510.8" r="2.55" fill="url(#gC)"/>
</g>
<g id="c1">
<line x1="151.3" y1="714" x2="138.5" y2="706" stroke="#5a5a5a" stroke-width="1.2"/>
<line x1="150.8" y1="729" x2="151.3" y2="714" stroke="#5a5a5a" stroke-width="1.2"/>
<line x1="138" y1="736.5" x2="150.8" y2="729" stroke="#5a5a5a" stroke-width="1.2"/>
<line x1="125.1" y1="728.5" x2="138" y2="736.5" stroke="#5a5a5a" stroke-width="1.2"/>
<line x1="126" y1="713.7" x2="125.1" y2="728.5" stroke="#5a5a5a" stroke-width="1.2"/>
<line x1="138.5" y1="692" x2="138.5" y2="706" stroke="#5a5a5a" stroke-width="1.2"/>
<line x1="129.6" y1="686.7" x2="138.5" y2="692" stroke="#5a5a5a" stroke-width="1.0"/>
<line x1="148.1" y1="686.7" x2="138.5" y2="692" stroke="#5a5a5a" stroke-width="1.0"/>
<line x1="138.3" y1="751.5" x2="138" y2="736.5" stroke="#5a5a5a" stroke-width="1.2"/>
<line x1="129.5" y1="756.6" x2="138.3" y2="751.5" stroke="#5a5a5a" stroke-width="1.0"/>
<line x1="147.6" y1="755.5" x2="138.3" y2="751.5" stroke="#5a5a5a" stroke-width="1.0"/>
<line x1="116.3" y1="708.6" x2="126" y2="713.7" stroke="#5a5a5a" stroke-width="1.0"/>
<line x1="161.3" y1="735.4" x2="150.8" y2="729" stroke="#5a5a5a" stroke-width="1.0"/>
<line x1="165.8" y1="707" x2="151.3" y2="714" stroke="#5a5a5a" stroke-width="1.2"/>
<line x1="166.9" y1="693.6" x2="165.8" y2="707" stroke="#5a5a5a" stroke-width="1.2"/>
<line x1="179.7" y1="715.7" x2="165.8" y2="707" stroke="#5a5a5a" stroke-width="1.2"/>
<line x1="188.6" y1="708.9" x2="179.7" y2="715.7" stroke="#5a5a5a" stroke-width="1.0"/>
<line x1="185.4" y1="722.6" x2="179.7" y2="715.7" stroke="#5a5a5a" stroke-width="1.0"/>
<line x1="176.5" y1="722.6" x2="179.7" y2="715.7" stroke="#5a5a5a" stroke-width="1.0"/>
<line x1="110.7" y1="735.9" x2="125.1" y2="728.5" stroke="#5a5a5a" stroke-width="1.2"/>
<line x1="109.9" y1="749.1" x2="110.7" y2="735.9" stroke="#5a5a5a" stroke-width="1.2"/>
<line x1="97.4" y1="726.9" x2="110.7" y2="735.9" stroke="#5a5a5a" stroke-width="1.2"/>
<line x1="88.5" y1="734.6" x2="97.4" y2="726.9" stroke="#5a5a5a" stroke-width="1.0"/>
<line x1="93.4" y1="720.1" x2="97.4" y2="726.9" stroke="#5a5a5a" stroke-width="1.0"/>
<line x1="100.3" y1="720.5" x2="97.4" y2="726.9" stroke="#5a5a5a" stroke-width="1.0"/>
<line x1="126" y1="713.7" x2="138.5" y2="706" stroke="#5a5a5a" stroke-width="1.2"/>
<circle cx="129.6" cy="686.7" r="1.8" fill="url(#gH)"/>
<circle cx="148.1" cy="686.7" r="1.8" fill="url(#gH)"/>
<circle cx="129.5" cy="756.6" r="1.8" fill="url(#gH)"/>
<circle cx="147.6" cy="755.5" r="1.8" fill="url(#gH)"/>
<circle cx="116.3" cy="708.6" r="1.8" fill="url(#gH)"/>
<circle cx="161.3" cy="735.4" r="1.8" fill="url(#gH)"/>
<circle cx="188.6" cy="708.9" r="1.8" fill="url(#gH)"/>
<circle cx="185.4" cy="722.6" r="1.8" fill="url(#gH)"/>
<circle cx="176.5" cy="722.6" r="1.8" fill="url(#gH)"/>
<circle cx="88.5" cy="734.6" r="1.8" fill="url(#gH)"/>
<circle cx="93.4" cy="720.1" r="1.8" fill="url(#gH)"/>
<circle cx="100.3" cy="720.5" r="1.8" fill="url(#gH)"/>
<circle cx="138.5" cy="706" r="2.55" fill="url(#gC)"/>
<circle cx="151.3" cy="714" r="2.55" fill="url(#gC)"/>
<circle cx="150.8" cy="729" r="2.55" fill="url(#gC)"/>
<circle cx="138" cy="736.5" r="2.55" fill="url(#gC)"/>
<circle cx="125.1" cy="728.5" r="2.55" fill="url(#gC)"/>
<circle cx="126" cy="713.7" r="2.55" fill="url(#gC)"/>
<circle cx="138.5" cy="692" r="2.65" fill="url(#gN)"/>
<circle cx="138.3" cy="751.5" r="2.65" fill="url(#gN)"/>
<circle cx="165.8" cy="707" r="2.55" fill="url(#gC)"/>
<circle cx="166.9" cy="693.6" r="2.65" fill="url(#gO)"/>
<circle cx="179.7" cy="715.7" r="2.55" fill="url(#gC)"/>
<circle cx="110.7" cy="735.9" r="2.55" fill="url(#gC)"/>
<circle cx="109.9" cy="749.1" r="2.65" fill="url(#gO)"/>
<circle cx="97.4" cy="726.9" r="2.55" fill="url(#gC)"/>
</g>
<g id="c2">
<line x1="283.7" y1="717.4" x2="271.2" y2="709.7" stroke="#5a5a5a" stroke-width="1.2"/>
<line x1="283.7" y1="731.7" x2="283.7" y2="717.4" stroke="#5a5a5a" stroke-width="1.2"/>
<line x1="271.2" y1="739.4" x2="283.7" y2="731.7" stroke="#5a5a5a" stroke-width="1.2"/>
<line x1="258.4" y1="731.7" x2="271.2" y2="739.4" stroke="#5a5a5a" stroke-width="1.2"/>
<line x1="258.8" y1="717.4" x2="258.4" y2="731.7" stroke="#5a5a5a" stroke-width="1.2"/>
<line x1="270.7" y1="695.6" x2="271.2" y2="709.7" stroke="#5a5a5a" stroke-width="1.2"/>
<line x1="262.4" y1="692.5" x2="270.7" y2="695.6" stroke="#5a5a5a" stroke-width="1.0"/>
<line x1="279.7" y1="691.6" x2="270.7" y2="695.6" stroke="#5a5a5a" stroke-width="1.0"/>
<line x1="271.7" y1="753.9" x2="271.2" y2="739.4" stroke="#5a5a5a" stroke-width="1.2"/>
<line x1="263.7" y1="759.8" x2="271.7" y2="753.9" stroke="#5a5a5a" stroke-width="1.0"/>
<line x1="281.6" y1="759.2" x2="271.7" y2="753.9" stroke="#5a5a5a" stroke-width="1.0"/>
<line x1="249.2" y1="712.1" x2="258.8" y2="717.4" stroke="#5a5a5a" stroke-width="1.0"/>
<line x1="293.4" y1="737" x2="283.7" y2="731.7" stroke="#5a5a5a" stroke-width="1.0"/>
<line x1="296.9" y1="710.2" x2="283.7" y2="717.4" stroke="#5a5a5a" stroke-width="1.2"/>
<line x1="297.2" y1="698.5" x2="296.9" y2="710.2" stroke="#5a5a5a" stroke-width="1.2"/>
<line x1="310.1" y1="718.5" x2="296.9" y2="710.2" stroke="#5a5a5a" stroke-width="1.2"/>
<line x1="318.6" y1="711.8" x2="310.1" y2="718.5" stroke="#5a5a5a" stroke-width="1.0"/>
<line x1="315.4" y1="725.3" x2="310.1" y2="718.5" stroke="#5a5a5a" stroke-width="1.0"/>
<line x1="307.3" y1="725.8" x2="310.1" y2="718.5" stroke="#5a5a5a" stroke-width="1.0"/>
<line x1="244.4" y1="739.7" x2="258.4" y2="731.7" stroke="#5a5a5a" stroke-width="1.2"/>
<line x1="243.4" y1="753.1" x2="244.4" y2="739.7" stroke="#5a5a5a" stroke-width="1.2"/>
<line x1="231.1" y1="731.1" x2="244.4" y2="739.7" stroke="#5a5a5a" stroke-width="1.2"/>
<line x1="222.2" y1="739.1" x2="231.1" y2="731.1" stroke="#5a5a5a" stroke-width="1.0"/>
<line x1="227" y1="723.7" x2="231.1" y2="731.1" stroke="#5a5a5a" stroke-width="1.0"/>
<line x1="234.3" y1="724.6" x2="231.1" y2="731.1" stroke="#5a5a5a" stroke-width="1.0"/>
<line x1="258.8" y1="717.4" x2="271.2" y2="709.7" stroke="#5a5a5a" stroke-width="1.2"/>
<circle cx="262.4" cy="692.5" r="1.8" fill="url(#gH)"/>
<circle cx="279.7" cy="691.6" r="1.8" fill="url(#gH)"/>
<circle cx="263.7" cy="759.8" r="1.8" fill="url(#gH)"/>
<circle cx="281.6" cy="759.2" r="1.8" fill="url(#gH)"/>
<circle cx="249.2" cy="712.1" r="1.8" fill="url(#gH)"/>
<circle cx="293.4" cy="737" r="1.8" fill="url(#gH)"/>
<circle cx="318.6" cy="711.8" r="1.8" fill="url(#gH)"/>
<circle cx="315.4" cy="725.3" r="1.8" fill="url(#gH)"/>
<circle cx="307.3" cy="725.8" r="1.8" fill="url(#gH)"/>
<circle cx="222.2" cy="739.1" r="1.8" fill="url(#gH)"/>
<circle cx="227" cy="723.7" r="1.8" fill="url(#gH)"/>
<circle cx="234.3" cy="724.6" r="1.8" fill="url(#gH)"/>
<circle cx="271.2" cy="709.7" r="2.55" fill="url(#gC)"/>
<circle cx="283.7" cy="717.4" r="2.55" fill="url(#gC)"/>
<circle cx="283.7" cy="731.7" r="2.55" fill="url(#gC)"/>
<circle cx="271.2" cy="739.4" r="2.55" fill="url(#gC)"/>
<circle cx="258.4" cy="731.7" r="2.55" fill="url(#gC)"/>
<circle cx="258.8" cy="717.4" r="2.55" fill="url(#gC)"/>
<circle cx="270.7" cy="695.6" r="2.65" fill="url(#gN)"/>
<circle cx="271.7" cy="753.9" r="2.65" fill="url(#gN)"/>
<circle cx="296.9" cy="710.2" r="2.55" fill="url(#gC)"/>
<circle cx="297.2" cy="698.5" r="2.65" fill="url(#gO)"/>
<circle cx="310.1" cy="718.5" r="2.55" fill="url(#gC)"/>
<circle cx="244.4" cy="739.7" r="2.55" fill="url(#gC)"/>
<circle cx="243.4" cy="753.1" r="2.65" fill="url(#gO)"/>
<circle cx="231.1" cy="731.1" r="2.55" fill="url(#gC)"/>
</g>
<g id="c3">
<line x1="480.5" y1="832" x2="467.6" y2="824.3" stroke="#5a5a5a" stroke-width="1.2"/>
<line x1="480.5" y1="846" x2="480.5" y2="832" stroke="#5a5a5a" stroke-width="1.2"/>
<line x1="468" y1="853.7" x2="480.5" y2="846" stroke="#5a5a5a" stroke-width="1.2"/>
<line x1="455.1" y1="846.4" x2="468" y2="853.7" stroke="#5a5a5a" stroke-width="1.2"/>
<line x1="455.3" y1="831.5" x2="455.1" y2="846.4" stroke="#5a5a5a" stroke-width="1.2"/>
<line x1="469.2" y1="810.6" x2="467.6" y2="824.3" stroke="#5a5a5a" stroke-width="1.2"/>
<line x1="461.2" y1="805.8" x2="469.2" y2="810.6" stroke="#5a5a5a" stroke-width="1.0"/>
<line x1="468.9" y1="868.4" x2="468" y2="853.7" stroke="#5a5a5a" stroke-width="1.2"/>
<line x1="460.4" y1="874.9" x2="468.9" y2="868.4" stroke="#5a5a5a" stroke-width="1.0"/>
<line x1="478.9" y1="874.1" x2="468.9" y2="868.4" stroke="#5a5a5a" stroke-width="1.0"/>
<line x1="446.4" y1="826.4" x2="455.3" y2="831.5" stroke="#5a5a5a" stroke-width="1.0"/>
<line x1="491.4" y1="851.6" x2="480.5" y2="846" stroke="#5a5a5a" stroke-width="1.0"/>
<line x1="492.2" y1="823" x2="480.5" y2="832" stroke="#5a5a5a" stroke-width="1.2"/>
<line x1="495.7" y1="811.1" x2="492.2" y2="823" stroke="#5a5a5a" stroke-width="1.2"/>
<line x1="485.3" y1="806.9" x2="495.7" y2="811.1" stroke="#5a5a5a" stroke-width="1.0"/>
<line x1="498.9" y1="825.1" x2="492.2" y2="823" stroke="#5a5a5a" stroke-width="1.2"/>
<line x1="502.2" y1="816.6" x2="498.9" y2="825.1" stroke="#5a5a5a" stroke-width="1.0"/>
<line x1="507.5" y1="831.5" x2="498.9" y2="825.1" stroke="#5a5a5a" stroke-width="1.0"/>
<line x1="493" y1="829.4" x2="498.9" y2="825.1" stroke="#5a5a5a" stroke-width="1.0"/>
<line x1="441.6" y1="854.5" x2="455.1" y2="846.4" stroke="#5a5a5a" stroke-width="1.2"/>
<line x1="440.7" y1="867.6" x2="441.6" y2="854.5" stroke="#5a5a5a" stroke-width="1.2"/>
<line x1="428" y1="846" x2="441.6" y2="854.5" stroke="#5a5a5a" stroke-width="1.2"/>
<line x1="419.5" y1="853.5" x2="428" y2="846" stroke="#5a5a5a" stroke-width="1.0"/>
<line x1="423.5" y1="838.7" x2="428" y2="846" stroke="#5a5a5a" stroke-width="1.0"/>
<line x1="430.7" y1="840.3" x2="428" y2="846" stroke="#5a5a5a" stroke-width="1.0"/>
<line x1="455.3" y1="831.5" x2="467.6" y2="824.3" stroke="#5a5a5a" stroke-width="1.2"/>
<circle cx="461.2" cy="805.8" r="1.8" fill="url(#gH)"/>
<circle cx="460.4" cy="874.9" r="1.8" fill="url(#gH)"/>
<circle cx="478.9" cy="874.1" r="1.8" fill="url(#gH)"/>
<circle cx="446.4" cy="826.4" r="1.8" fill="url(#gH)"/>
<circle cx="491.4" cy="851.6" r="1.8" fill="url(#gH)"/>
<circle cx="485.3" cy="806.9" r="1.8" fill="url(#gH)"/>
<circle cx="502.2" cy="816.6" r="1.8" fill="url(#gH)"/>
<circle cx="507.5" cy="831.5" r="1.8" fill="url(#gH)"/>
<circle cx="493" cy="829.4" r="1.8" fill="url(#gH)"/>
<circle cx="419.5" cy="853.5" r="1.8" fill="url(#gH)"/>
<circle cx="423.5" cy="838.7" r="1.8" fill="url(#gH)"/>
<circle cx="430.7" cy="840.3" r="1.8" fill="url(#gH)"/>
<circle cx="467.6" cy="824.3" r="2.55" fill="url(#gC)"/>
<circle cx="480.5" cy="832" r="2.55" fill="url(#gC)"/>
<circle cx="480.5" cy="846" r="2.55" fill="url(#gC)"/>
<circle cx="468" cy="853.7" r="2.55" fill="url(#gC)"/>
<circle cx="455.1" cy="846.4" r="2.55" fill="url(#gC)"/>
<circle cx="455.3" cy="831.5" r="2.55" fill="url(#gC)"/>
<circle cx="469.2" cy="810.6" r="2.65" fill="url(#gN)"/>
<circle cx="468.9" cy="868.4" r="2.65" fill="url(#gN)"/>
<circle cx="492.2" cy="823" r="2.55" fill="url(#gC)"/>
<circle cx="495.7" cy="811.1" r="2.65" fill="url(#gO)"/>
<circle cx="498.9" cy="825.1" r="2.55" fill="url(#gC)"/>
<circle cx="441.6" cy="854.5" r="2.55" fill="url(#gC)"/>
<circle cx="440.7" cy="867.6" r="2.65" fill="url(#gO)"/>
<circle cx="428" cy="846" r="2.55" fill="url(#gC)"/>
</g>
<g id="c4">
<line x1="632.7" y1="779.2" x2="619.6" y2="771.8" stroke="#5a5a5a" stroke-width="1.2"/>
<line x1="631.8" y1="794.4" x2="632.7" y2="779.2" stroke="#5a5a5a" stroke-width="1.2"/>
<line x1="619.6" y1="801.6" x2="631.8" y2="794.4" stroke="#5a5a5a" stroke-width="1.2"/>
<line x1="605.2" y1="793.7" x2="619.6" y2="801.6" stroke="#5a5a5a" stroke-width="1.2"/>
<line x1="606.1" y1="779.2" x2="605.2" y2="793.7" stroke="#5a5a5a" stroke-width="1.2"/>
<line x1="618.7" y1="759" x2="619.6" y2="771.8" stroke="#5a5a5a" stroke-width="1.2"/>
<line x1="609.4" y1="756.4" x2="618.7" y2="759" stroke="#5a5a5a" stroke-width="1.0"/>
<line x1="617.3" y1="816" x2="619.6" y2="801.6" stroke="#5a5a5a" stroke-width="1.2"/>
<line x1="626.2" y1="821.6" x2="617.3" y2="816" stroke="#5a5a5a" stroke-width="1.0"/>
<line x1="596.4" y1="773" x2="606.1" y2="779.2" stroke="#5a5a5a" stroke-width="1.0"/>
<line x1="641" y1="800.7" x2="631.8" y2="794.4" stroke="#5a5a5a" stroke-width="1.0"/>
<line x1="645" y1="772.2" x2="632.7" y2="779.2" stroke="#5a5a5a" stroke-width="1.2"/>
<line x1="645.3" y1="758.5" x2="645" y2="772.2" stroke="#5a5a5a" stroke-width="1.2"/>
<line x1="636.6" y1="755.5" x2="645.3" y2="758.5" stroke="#5a5a5a" stroke-width="1.0"/>
<line x1="659.5" y1="778.3" x2="645" y2="772.2" stroke="#5a5a5a" stroke-width="1.2"/>
<line x1="670" y1="771.6" x2="659.5" y2="778.3" stroke="#5a5a5a" stroke-width="1.0"/>
<line x1="660.2" y1="789.7" x2="659.5" y2="778.3" stroke="#5a5a5a" stroke-width="1.0"/>
<line x1="591" y1="802.5" x2="605.2" y2="793.7" stroke="#5a5a5a" stroke-width="1.2"/>
<line x1="589.8" y1="816.8" x2="591" y2="802.5" stroke="#5a5a5a" stroke-width="1.2"/>
<line x1="602.4" y1="821.2" x2="589.8" y2="816.8" stroke="#5a5a5a" stroke-width="1.0"/>
<line x1="577.2" y1="797.2" x2="591" y2="802.5" stroke="#5a5a5a" stroke-width="1.2"/>
<line x1="566.1" y1="794.4" x2="577.2" y2="797.2" stroke="#5a5a5a" stroke-width="1.0"/>
<line x1="581" y1="788.8" x2="577.2" y2="797.2" stroke="#5a5a5a" stroke-width="1.0"/>
<line x1="573.7" y1="806.3" x2="577.2" y2="797.2" stroke="#5a5a5a" stroke-width="1.0"/>
<line x1="606.1" y1="779.2" x2="619.6" y2="771.8" stroke="#5a5a5a" stroke-width="1.2"/>
<circle cx="609.4" cy="756.4" r="1.8" fill="url(#gH)"/>
<circle cx="626.2" cy="821.6" r="1.8" fill="url(#gH)"/>
<circle cx="596.4" cy="773" r="1.8" fill="url(#gH)"/>
<circle cx="641" cy="800.7" r="1.8" fill="url(#gH)"/>
<circle cx="636.6" cy="755.5" r="1.8" fill="url(#gH)"/>
<circle cx="670" cy="771.6" r="1.8" fill="url(#gH)"/>
<circle cx="660.2" cy="789.7" r="1.8" fill="url(#gH)"/>
<circle cx="602.4" cy="821.2" r="1.8" fill="url(#gH)"/>
<circle cx="566.1" cy="794.4" r="1.8" fill="url(#gH)"/>
<circle cx="581" cy="788.8" r="1.8" fill="url(#gH)"/>
<circle cx="573.7" cy="806.3" r="1.8" fill="url(#gH)"/>
<circle cx="619.6" cy="771.8" r="2.55" fill="url(#gC)"/>
<circle cx="632.7" cy="779.2" r="2.55" fill="url(#gC)"/>
<circle cx="631.8" cy="794.4" r="2.55" fill="url(#gC)"/>
<circle cx="619.6" cy="801.6" r="2.55" fill="url(#gC)"/>
<circle cx="605.2" cy="793.7" r="2.55" fill="url(#gC)"/>
<circle cx="606.1" cy="779.2" r="2.55" fill="url(#gC)"/>
<circle cx="618.7" cy="759" r="2.65" fill="url(#gN)"/>
<circle cx="617.3" cy="816" r="2.65" fill="url(#gN)"/>
<circle cx="645" cy="772.2" r="2.55" fill="url(#gC)"/>
<circle cx="645.3" cy="758.5" r="2.65" fill="url(#gO)"/>
<circle cx="659.5" cy="778.3" r="2.55" fill="url(#gC)"/>
<circle cx="591" cy="802.5" r="2.55" fill="url(#gC)"/>
<circle cx="589.8" cy="816.8" r="2.65" fill="url(#gO)"/>
<circle cx="577.2" cy="797.2" r="2.55" fill="url(#gC)"/>
</g>
</svg>
</body></html>
